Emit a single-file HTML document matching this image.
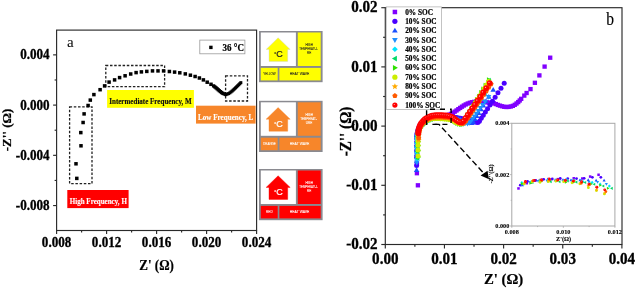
<!DOCTYPE html>
<html><head><meta charset="utf-8"><style>
html,body{margin:0;padding:0;background:#fff;width:637px;height:289px;overflow:hidden}
svg{display:block;filter:blur(0.3px)}
text{font-family:"Liberation Serif", "Times New Roman", serif}
</style></head><body>
<svg width="637" height="289" viewBox="0 0 637 289">
<rect width="637" height="289" fill="#fff"/>
<rect x="56.6" y="30.1" width="200.00000000000003" height="200.4" fill="none" stroke="#2a2a2a" stroke-width="1.15"/>
<line x1="56.6" y1="230.5" x2="56.6" y2="234.0" stroke="#2a2a2a" stroke-width="1.15"/>
<text transform="translate(56.6,247.1) scale(1,1.08)" font-size="13.1" stroke="#000" stroke-width="0.3" font-weight="bold" text-anchor="middle">0.008</text>
<line x1="106.6" y1="230.5" x2="106.6" y2="234.0" stroke="#2a2a2a" stroke-width="1.15"/>
<text transform="translate(106.6,247.1) scale(1,1.08)" font-size="13.1" stroke="#000" stroke-width="0.3" font-weight="bold" text-anchor="middle">0.012</text>
<line x1="156.6" y1="230.5" x2="156.6" y2="234.0" stroke="#2a2a2a" stroke-width="1.15"/>
<text transform="translate(156.6,247.1) scale(1,1.08)" font-size="13.1" stroke="#000" stroke-width="0.3" font-weight="bold" text-anchor="middle">0.016</text>
<line x1="206.6" y1="230.5" x2="206.6" y2="234.0" stroke="#2a2a2a" stroke-width="1.15"/>
<text transform="translate(206.6,247.1) scale(1,1.08)" font-size="13.1" stroke="#000" stroke-width="0.3" font-weight="bold" text-anchor="middle">0.020</text>
<line x1="256.6" y1="230.5" x2="256.6" y2="234.0" stroke="#2a2a2a" stroke-width="1.15"/>
<text transform="translate(256.6,247.1) scale(1,1.08)" font-size="13.1" stroke="#000" stroke-width="0.3" font-weight="bold" text-anchor="middle">0.024</text>
<line x1="81.6" y1="230.5" x2="81.6" y2="232.5" stroke="#2a2a2a" stroke-width="1.15"/>
<line x1="131.6" y1="230.5" x2="131.6" y2="232.5" stroke="#2a2a2a" stroke-width="1.15"/>
<line x1="181.6" y1="230.5" x2="181.6" y2="232.5" stroke="#2a2a2a" stroke-width="1.15"/>
<line x1="231.6" y1="230.5" x2="231.6" y2="232.5" stroke="#2a2a2a" stroke-width="1.15"/>
<line x1="53.1" y1="54.87" x2="56.6" y2="54.87" stroke="#2a2a2a" stroke-width="1.15"/>
<text transform="translate(49.6,59.47) scale(1,1.08)" font-size="13.1" stroke="#000" stroke-width="0.3" font-weight="bold" text-anchor="end">0.004</text>
<line x1="53.1" y1="105.1" x2="56.6" y2="105.1" stroke="#2a2a2a" stroke-width="1.15"/>
<text transform="translate(49.6,109.7) scale(1,1.08)" font-size="13.1" stroke="#000" stroke-width="0.3" font-weight="bold" text-anchor="end">0.000</text>
<line x1="53.1" y1="155.33" x2="56.6" y2="155.33" stroke="#2a2a2a" stroke-width="1.15"/>
<text transform="translate(49.6,159.93) scale(1,1.08)" font-size="13.1" stroke="#000" stroke-width="0.3" font-weight="bold" text-anchor="end">-0.004</text>
<line x1="53.1" y1="205.56" x2="56.6" y2="205.56" stroke="#2a2a2a" stroke-width="1.15"/>
<text transform="translate(49.6,210.16) scale(1,1.08)" font-size="13.1" stroke="#000" stroke-width="0.3" font-weight="bold" text-anchor="end">-0.008</text>
<line x1="54.6" y1="79.98" x2="56.6" y2="79.98" stroke="#2a2a2a" stroke-width="1.15"/>
<line x1="54.6" y1="130.22" x2="56.6" y2="130.22" stroke="#2a2a2a" stroke-width="1.15"/>
<line x1="54.6" y1="180.45" x2="56.6" y2="180.45" stroke="#2a2a2a" stroke-width="1.15"/>
<text transform="translate(156.6,269.8) scale(1,1.04)" font-size="13" stroke="#000" stroke-width="0.2" font-weight="bold" text-anchor="middle">Z' (Ω)</text>
<text transform="translate(11.2,130) rotate(-90)" font-size="13" font-weight="bold" text-anchor="middle" stroke="#000" stroke-width="0.2">-Z'' (Ω)</text>
<text x="67" y="46.9" font-size="15">a</text>
<rect x="199.8" y="40.1" width="45.1" height="13.7" fill="#fff" stroke="#999" stroke-width="0.8"/>
<rect x="209.2" y="45.7" width="3.4" height="3.4" fill="#000"/>
<text transform="translate(222.6,50.6) scale(1,1.08)" font-size="9" stroke="#000" stroke-width="0.22" font-weight="bold">36 °C</text>
<rect x="69.6" y="106.8" width="22.4" height="76.9" stroke="#222" stroke-width="1.3" stroke-dasharray="2.5 1.7" fill="none"/>
<rect x="105.8" y="65.5" width="58.8" height="21.2" stroke="#222" stroke-width="1.3" stroke-dasharray="2.5 1.7" fill="none"/>
<rect x="225.6" y="75.8" width="21.9" height="25.2" stroke="#222" stroke-width="1.3" stroke-dasharray="2.5 1.7" fill="none"/>
<rect x="75.05" y="176.65" width="3.5" height="3.5" fill="#000"/>
<rect x="74.25" y="162.05" width="3.5" height="3.5" fill="#000"/>
<rect x="79.25" y="144.05" width="3.5" height="3.5" fill="#000"/>
<rect x="79.05" y="130.85" width="3.5" height="3.5" fill="#000"/>
<rect x="81.35" y="120.75" width="3.5" height="3.5" fill="#000"/>
<rect x="82.35" y="112.15" width="3.5" height="3.5" fill="#000"/>
<rect x="86.35" y="103.75" width="3.5" height="3.5" fill="#000"/>
<rect x="88.55" y="98.35" width="3.5" height="3.5" fill="#000"/>
<rect x="92.15" y="92.85" width="3.5" height="3.5" fill="#000"/>
<rect x="98.35" y="87.95" width="3.5" height="3.5" fill="#000"/>
<rect x="102.85" y="84.15" width="3.5" height="3.5" fill="#000"/>
<rect x="107.35" y="80.35" width="3.5" height="3.5" fill="#000"/>
<rect x="112.85" y="78.15" width="3.5" height="3.5" fill="#000"/>
<rect x="117.85" y="75.85" width="3.5" height="3.5" fill="#000"/>
<rect x="123.35" y="74.05" width="3.5" height="3.5" fill="#000"/>
<rect x="128.95" y="72.25" width="3.5" height="3.5" fill="#000"/>
<rect x="134.35" y="70.85" width="3.5" height="3.5" fill="#000"/>
<rect x="139.65" y="70.15" width="3.5" height="3.5" fill="#000"/>
<rect x="145.05" y="69.65" width="3.5" height="3.5" fill="#000"/>
<rect x="150.75" y="69.15" width="3.5" height="3.5" fill="#000"/>
<rect x="156.25" y="69.15" width="3.5" height="3.5" fill="#000"/>
<rect x="161.85" y="69.15" width="3.5" height="3.5" fill="#000"/>
<rect x="167.65" y="69.75" width="3.5" height="3.5" fill="#000"/>
<rect x="172.85" y="70.35" width="3.5" height="3.5" fill="#000"/>
<rect x="178.05" y="71.05" width="3.5" height="3.5" fill="#000"/>
<rect x="183.55" y="72.15" width="3.5" height="3.5" fill="#000"/>
<rect x="188.65" y="73.45" width="3.5" height="3.5" fill="#000"/>
<rect x="193.35" y="74.75" width="3.5" height="3.5" fill="#000"/>
<rect x="197.65" y="76.25" width="3.5" height="3.5" fill="#000"/>
<rect x="201.65" y="78.15" width="3.5" height="3.5" fill="#000"/>
<rect x="205.45" y="80.45" width="3.5" height="3.5" fill="#000"/>
<rect x="209.25" y="82.55" width="3.5" height="3.5" fill="#000"/>
<rect x="211.95" y="84.25" width="3.3" height="3.3" fill="#000"/>
<rect x="213.13" y="85.18" width="3.3" height="3.3" fill="#000"/>
<rect x="214.3" y="86.11" width="3.3" height="3.3" fill="#000"/>
<rect x="215.44" y="87.08" width="3.3" height="3.3" fill="#000"/>
<rect x="216.56" y="88.09" width="3.3" height="3.3" fill="#000"/>
<rect x="217.67" y="89.09" width="3.3" height="3.3" fill="#000"/>
<rect x="218.85" y="90.02" width="3.3" height="3.3" fill="#000"/>
<rect x="220.03" y="90.94" width="3.3" height="3.3" fill="#000"/>
<rect x="221.27" y="91.77" width="3.3" height="3.3" fill="#000"/>
<rect x="222.67" y="92.3" width="3.3" height="3.3" fill="#000"/>
<rect x="224.08" y="92.82" width="3.3" height="3.3" fill="#000"/>
<rect x="225.66" y="92.58" width="3.0" height="3.0" fill="#000"/>
<rect x="227.09" y="92.13" width="3.0" height="3.0" fill="#000"/>
<rect x="228.34" y="91.34" width="3.0" height="3.0" fill="#000"/>
<rect x="229.52" y="90.41" width="3.0" height="3.0" fill="#000"/>
<rect x="230.7" y="89.48" width="3.0" height="3.0" fill="#000"/>
<rect x="231.8" y="88.46" width="3.0" height="3.0" fill="#000"/>
<rect x="232.89" y="87.44" width="3.0" height="3.0" fill="#000"/>
<rect x="233.99" y="86.41" width="3.0" height="3.0" fill="#000"/>
<rect x="235.07" y="85.37" width="3.0" height="3.0" fill="#000"/>
<rect x="236.14" y="84.32" width="3.0" height="3.0" fill="#000"/>
<rect x="237.22" y="83.28" width="3.0" height="3.0" fill="#000"/>
<rect x="238.28" y="82.22" width="3.0" height="3.0" fill="#000"/>
<rect x="239.34" y="81.16" width="3.0" height="3.0" fill="#000"/>
<rect x="107.1" y="90" width="86.8" height="17.8" fill="#ffff00"/>
<text transform="translate(150.5,103.8) scale(1,1.15)" font-size="7.05" stroke="#111" stroke-width="0.15" font-weight="bold" text-anchor="middle" fill="#111">Intermediate Frequency, M</text>
<rect x="196" y="105.7" width="59.6" height="17.9" fill="#f7862a"/>
<text transform="translate(225.7,119.5) scale(1,1.15)" font-size="7.1" stroke="#fff" stroke-width="0.12" font-weight="bold" text-anchor="middle" fill="#fff">Low Frequency, L</text>
<rect x="67.3" y="190" width="61.3" height="18.1" fill="#ff0000"/>
<text transform="translate(98.3,204) scale(1,1.15)" font-size="7.05" stroke="#fff" stroke-width="0.12" font-weight="bold" text-anchor="middle" fill="#fff">High Frequency, H</text>
<rect x="259" y="31" width="63.6" height="51.2" fill="#8a8a90"/>
<rect x="260.8" y="32.5" width="35.1" height="33.5" fill="#fff"/>
<rect x="297.8" y="32.5" width="22.9" height="33.5" fill="#ffff00"/>
<rect x="260.8" y="67.9" width="16.9" height="12.5" fill="#ffff00"/>
<rect x="279.4" y="67.9" width="41.3" height="12.5" fill="#ffff00"/>
<path d="M278.1 37.8 L290.2 49.4 L287.7 49.4 L287.7 61.4 L269 61.4 L269 49.4 L266.1 49.4 Z" fill="#ffff00" stroke="#c8d0d8" stroke-width="0.4"/>
<text x="274.0" y="55.7" font-size="5.8" fill="#222" style="font-family:'Liberation Sans', Arial, sans-serif" stroke="#222" stroke-width="0.15">°</text>
<text x="276.3" y="57.1" font-size="9.0" fill="#222" style="font-family:'Liberation Sans', Arial, sans-serif" stroke="#222" stroke-width="0.2">C</text>
<text x="309.1" y="46" font-size="3.1" fill="#222" text-anchor="middle" style="font-family:'Liberation Sans', Arial, sans-serif" stroke="#222" stroke-width="0.06" textLength="7.4" lengthAdjust="spacingAndGlyphs">HIGH</text>
<text x="308.4" y="50.1" font-size="3.1" fill="#222" text-anchor="middle" style="font-family:'Liberation Sans', Arial, sans-serif" stroke="#222" stroke-width="0.06" textLength="18.2" lengthAdjust="spacingAndGlyphs">TEMPERATU-</text>
<text x="309.1" y="54.2" font-size="3.1" fill="#222" text-anchor="middle" style="font-family:'Liberation Sans', Arial, sans-serif" stroke="#222" stroke-width="0.06">RE</text>
<text x="269.4" y="75.4" font-size="3.2" fill="#222" text-anchor="middle" style="font-family:'Liberation Sans', Arial, sans-serif" stroke="#222" stroke-width="0.06" textLength="12.4" lengthAdjust="spacingAndGlyphs">YELLOW</text>
<text x="299.6" y="75.4" font-size="3.3" fill="#222" text-anchor="middle" style="font-family:'Liberation Sans', Arial, sans-serif" stroke="#222" stroke-width="0.06" textLength="19.6" lengthAdjust="spacingAndGlyphs">HEAT WAVE</text>
<rect x="259" y="100.8" width="63.6" height="51.2" fill="#8a8a90"/>
<rect x="260.8" y="102.3" width="35.1" height="33.5" fill="#fff"/>
<rect x="297.8" y="102.3" width="22.9" height="33.5" fill="#f7862a"/>
<rect x="260.8" y="137.7" width="16.9" height="12.5" fill="#f7862a"/>
<rect x="279.4" y="137.7" width="41.3" height="12.5" fill="#f7862a"/>
<path d="M278.1 107.6 L290.2 119.2 L287.7 119.2 L287.7 131.2 L269 131.2 L269 119.2 L266.1 119.2 Z" fill="#f7862a" stroke="#f7862a" stroke-width="0.4"/>
<text x="274.0" y="125.5" font-size="5.8" fill="#fff" style="font-family:'Liberation Sans', Arial, sans-serif" stroke="#fff" stroke-width="0.15">°</text>
<text x="276.3" y="126.9" font-size="9.0" fill="#fff" style="font-family:'Liberation Sans', Arial, sans-serif" stroke="#fff" stroke-width="0.2">C</text>
<text x="309.1" y="115.8" font-size="3.1" fill="#fff" text-anchor="middle" style="font-family:'Liberation Sans', Arial, sans-serif" stroke="#fff" stroke-width="0.06" textLength="7.4" lengthAdjust="spacingAndGlyphs">HIGH</text>
<text x="308.4" y="119.9" font-size="3.1" fill="#fff" text-anchor="middle" style="font-family:'Liberation Sans', Arial, sans-serif" stroke="#fff" stroke-width="0.06" textLength="16.5" lengthAdjust="spacingAndGlyphs">TEMPERAT-</text>
<text x="309.1" y="124" font-size="3.1" fill="#fff" text-anchor="middle" style="font-family:'Liberation Sans', Arial, sans-serif" stroke="#fff" stroke-width="0.06">URE</text>
<text x="269.4" y="145.2" font-size="3.2" fill="#fff" text-anchor="middle" style="font-family:'Liberation Sans', Arial, sans-serif" stroke="#fff" stroke-width="0.06" textLength="12.8" lengthAdjust="spacingAndGlyphs">ORANGE</text>
<text x="299.6" y="145.2" font-size="3.3" fill="#fff" text-anchor="middle" style="font-family:'Liberation Sans', Arial, sans-serif" stroke="#fff" stroke-width="0.06" textLength="19.6" lengthAdjust="spacingAndGlyphs">HEAT WAVE</text>
<rect x="259" y="169" width="63.6" height="51.2" fill="#8a8a90"/>
<rect x="260.8" y="170.5" width="35.1" height="33.5" fill="#fff"/>
<rect x="297.8" y="170.5" width="22.9" height="33.5" fill="#ff0000"/>
<rect x="260.8" y="205.9" width="16.9" height="12.5" fill="#ff0000"/>
<rect x="279.4" y="205.9" width="41.3" height="12.5" fill="#ff0000"/>
<path d="M278.1 175.8 L290.2 187.4 L287.7 187.4 L287.7 199.4 L269 199.4 L269 187.4 L266.1 187.4 Z" fill="#ff0000" stroke="#ff0000" stroke-width="0.4"/>
<text x="274.0" y="193.7" font-size="5.8" fill="#fff" style="font-family:'Liberation Sans', Arial, sans-serif" stroke="#fff" stroke-width="0.15">°</text>
<text x="276.3" y="195.1" font-size="9.0" fill="#fff" style="font-family:'Liberation Sans', Arial, sans-serif" stroke="#fff" stroke-width="0.2">C</text>
<text x="309.1" y="184" font-size="3.1" fill="#fff" text-anchor="middle" style="font-family:'Liberation Sans', Arial, sans-serif" stroke="#fff" stroke-width="0.06" textLength="7.4" lengthAdjust="spacingAndGlyphs">HIGH</text>
<text x="308.4" y="188.1" font-size="3.1" fill="#fff" text-anchor="middle" style="font-family:'Liberation Sans', Arial, sans-serif" stroke="#fff" stroke-width="0.06" textLength="18.2" lengthAdjust="spacingAndGlyphs">TEMPERATU-</text>
<text x="309.1" y="192.2" font-size="3.1" fill="#fff" text-anchor="middle" style="font-family:'Liberation Sans', Arial, sans-serif" stroke="#fff" stroke-width="0.06">RE</text>
<text x="269.4" y="213.4" font-size="3.2" fill="#fff" text-anchor="middle" style="font-family:'Liberation Sans', Arial, sans-serif" stroke="#fff" stroke-width="0.06" textLength="6.6" lengthAdjust="spacingAndGlyphs">RED</text>
<text x="299.6" y="213.4" font-size="3.3" fill="#fff" text-anchor="middle" style="font-family:'Liberation Sans', Arial, sans-serif" stroke="#fff" stroke-width="0.06" textLength="19.6" lengthAdjust="spacingAndGlyphs">HEAT WAVE</text>
<rect x="385.3" y="7.7" width="236.7" height="236.8" fill="none" stroke="#2a2a2a" stroke-width="1.15"/>
<line x1="385.3" y1="244.5" x2="385.3" y2="248.5" stroke="#2a2a2a" stroke-width="1.15"/>
<text transform="translate(385.3,264) scale(1,1.04)" font-size="15.1" stroke="#000" stroke-width="0.3" font-weight="bold" text-anchor="middle">0.00</text>
<line x1="444.45" y1="244.5" x2="444.45" y2="248.5" stroke="#2a2a2a" stroke-width="1.15"/>
<text transform="translate(444.45,264) scale(1,1.04)" font-size="15.1" stroke="#000" stroke-width="0.3" font-weight="bold" text-anchor="middle">0.01</text>
<line x1="503.6" y1="244.5" x2="503.6" y2="248.5" stroke="#2a2a2a" stroke-width="1.15"/>
<text transform="translate(503.6,264) scale(1,1.04)" font-size="15.1" stroke="#000" stroke-width="0.3" font-weight="bold" text-anchor="middle">0.02</text>
<line x1="562.75" y1="244.5" x2="562.75" y2="248.5" stroke="#2a2a2a" stroke-width="1.15"/>
<text transform="translate(562.75,264) scale(1,1.04)" font-size="15.1" stroke="#000" stroke-width="0.3" font-weight="bold" text-anchor="middle">0.03</text>
<line x1="621.9" y1="244.5" x2="621.9" y2="248.5" stroke="#2a2a2a" stroke-width="1.15"/>
<text transform="translate(621.9,264) scale(1,1.04)" font-size="15.1" stroke="#000" stroke-width="0.3" font-weight="bold" text-anchor="middle">0.04</text>
<line x1="414.88" y1="244.5" x2="414.88" y2="246.7" stroke="#2a2a2a" stroke-width="1.15"/>
<line x1="474.02" y1="244.5" x2="474.02" y2="246.7" stroke="#2a2a2a" stroke-width="1.15"/>
<line x1="533.17" y1="244.5" x2="533.17" y2="246.7" stroke="#2a2a2a" stroke-width="1.15"/>
<line x1="592.33" y1="244.5" x2="592.33" y2="246.7" stroke="#2a2a2a" stroke-width="1.15"/>
<line x1="381.3" y1="7.7" x2="385.3" y2="7.7" stroke="#2a2a2a" stroke-width="1.15"/>
<text transform="translate(377.6,12.3) scale(1,1.04)" font-size="15.1" stroke="#000" stroke-width="0.3" font-weight="bold" text-anchor="end">0.02</text>
<line x1="381.3" y1="66.9" x2="385.3" y2="66.9" stroke="#2a2a2a" stroke-width="1.15"/>
<text transform="translate(377.6,71.5) scale(1,1.04)" font-size="15.1" stroke="#000" stroke-width="0.3" font-weight="bold" text-anchor="end">0.01</text>
<line x1="381.3" y1="126.1" x2="385.3" y2="126.1" stroke="#2a2a2a" stroke-width="1.15"/>
<text transform="translate(377.6,130.7) scale(1,1.04)" font-size="15.1" stroke="#000" stroke-width="0.3" font-weight="bold" text-anchor="end">0.00</text>
<line x1="381.3" y1="185.3" x2="385.3" y2="185.3" stroke="#2a2a2a" stroke-width="1.15"/>
<text transform="translate(377.6,189.9) scale(1,1.04)" font-size="15.1" stroke="#000" stroke-width="0.3" font-weight="bold" text-anchor="end">-0.01</text>
<line x1="381.3" y1="244.5" x2="385.3" y2="244.5" stroke="#2a2a2a" stroke-width="1.15"/>
<text transform="translate(377.6,249.1) scale(1,1.04)" font-size="15.1" stroke="#000" stroke-width="0.3" font-weight="bold" text-anchor="end">-0.02</text>
<line x1="383.1" y1="37.3" x2="385.3" y2="37.3" stroke="#2a2a2a" stroke-width="1.15"/>
<line x1="383.1" y1="96.5" x2="385.3" y2="96.5" stroke="#2a2a2a" stroke-width="1.15"/>
<line x1="383.1" y1="155.7" x2="385.3" y2="155.7" stroke="#2a2a2a" stroke-width="1.15"/>
<line x1="383.1" y1="214.9" x2="385.3" y2="214.9" stroke="#2a2a2a" stroke-width="1.15"/>
<text transform="translate(503.6,283.5) scale(1,1.04)" font-size="14.8" stroke="#000" stroke-width="0.22" font-weight="bold" text-anchor="middle">Z' (Ω)</text>
<text transform="translate(351.4,131.5) rotate(-90) scale(1,1.1)" font-size="15.2" font-weight="bold" text-anchor="middle" stroke="#000" stroke-width="0.25">-Z'' (Ω)</text>
<text transform="translate(606.3,24.6) scale(1,1.17)" font-size="15.5" stroke="#000" stroke-width="0.15">b</text>
<g>
<rect x="415.74" y="183.14" width="4.32" height="4.32" fill="#8000ff"/>
<rect x="414.74" y="171.04" width="4.32" height="4.32" fill="#8000ff"/>
<rect x="414.74" y="161.04" width="4.32" height="4.32" fill="#8000ff"/>
<rect x="414.84" y="153.04" width="4.32" height="4.32" fill="#8000ff"/>
<rect x="415.04" y="146.44" width="4.32" height="4.32" fill="#8000ff"/>
<rect x="415.24" y="141.04" width="4.32" height="4.32" fill="#8000ff"/>
<rect x="415.44" y="136.64" width="4.32" height="4.32" fill="#8000ff"/>
<rect x="415.44" y="132.14" width="4.32" height="4.32" fill="#8000ff"/>
<rect x="415.63" y="129.95" width="4.32" height="4.32" fill="#8000ff"/>
<rect x="415.96" y="127.77" width="4.32" height="4.32" fill="#8000ff"/>
<rect x="416.63" y="125.68" width="4.32" height="4.32" fill="#8000ff"/>
<rect x="417.57" y="123.69" width="4.32" height="4.32" fill="#8000ff"/>
<rect x="418.74" y="121.83" width="4.32" height="4.32" fill="#8000ff"/>
<rect x="420.11" y="120.11" width="4.32" height="4.32" fill="#8000ff"/>
<rect x="421.66" y="118.55" width="4.32" height="4.32" fill="#8000ff"/>
<rect x="423.36" y="117.15" width="4.32" height="4.32" fill="#8000ff"/>
<rect x="425.21" y="115.98" width="4.32" height="4.32" fill="#8000ff"/>
<rect x="427.21" y="115.06" width="4.32" height="4.32" fill="#8000ff"/>
<rect x="429.31" y="114.4" width="4.32" height="4.32" fill="#8000ff"/>
<rect x="431.47" y="114.02" width="4.32" height="4.32" fill="#8000ff"/>
<rect x="433.67" y="113.85" width="4.32" height="4.32" fill="#8000ff"/>
<rect x="435.86" y="113.79" width="4.32" height="4.32" fill="#8000ff"/>
<rect x="438.06" y="113.8" width="4.32" height="4.32" fill="#8000ff"/>
<rect x="440.26" y="113.76" width="4.32" height="4.32" fill="#8000ff"/>
<rect x="442.45" y="113.56" width="4.32" height="4.32" fill="#8000ff"/>
<rect x="444.62" y="113.15" width="4.32" height="4.32" fill="#8000ff"/>
<rect x="446.73" y="112.55" width="4.32" height="4.32" fill="#8000ff"/>
<rect x="448.77" y="111.74" width="4.32" height="4.32" fill="#8000ff"/>
<rect x="450.7" y="110.68" width="4.32" height="4.32" fill="#8000ff"/>
<rect x="452.57" y="109.51" width="4.32" height="4.32" fill="#8000ff"/>
<rect x="454.39" y="108.29" width="4.32" height="4.32" fill="#8000ff"/>
<rect x="456.17" y="106.99" width="4.32" height="4.32" fill="#8000ff"/>
<rect x="457.98" y="105.75" width="4.32" height="4.32" fill="#8000ff"/>
<rect x="459.82" y="104.53" width="4.32" height="4.32" fill="#8000ff"/>
<rect x="461.67" y="103.34" width="4.32" height="4.32" fill="#8000ff"/>
<rect x="463.59" y="102.27" width="4.32" height="4.32" fill="#8000ff"/>
<rect x="465.59" y="101.36" width="4.32" height="4.32" fill="#8000ff"/>
<rect x="467.66" y="100.62" width="4.32" height="4.32" fill="#8000ff"/>
<rect x="469.79" y="100.05" width="4.32" height="4.32" fill="#8000ff"/>
<rect x="471.96" y="99.68" width="4.32" height="4.32" fill="#8000ff"/>
<rect x="474.15" y="99.5" width="4.32" height="4.32" fill="#8000ff"/>
<rect x="476.35" y="99.43" width="4.32" height="4.32" fill="#8000ff"/>
<rect x="478.55" y="99.48" width="4.32" height="4.32" fill="#8000ff"/>
<rect x="480.74" y="99.64" width="4.32" height="4.32" fill="#8000ff"/>
<rect x="482.93" y="99.87" width="4.32" height="4.32" fill="#8000ff"/>
<rect x="485.1" y="100.19" width="4.32" height="4.32" fill="#8000ff"/>
<rect x="487.27" y="100.55" width="4.32" height="4.32" fill="#8000ff"/>
<rect x="489.46" y="100.82" width="4.32" height="4.32" fill="#8000ff"/>
<rect x="491.62" y="101.18" width="4.32" height="4.32" fill="#8000ff"/>
<rect x="493.69" y="101.92" width="4.32" height="4.32" fill="#8000ff"/>
<rect x="495.72" y="102.77" width="4.32" height="4.32" fill="#8000ff"/>
<rect x="497.8" y="103.48" width="4.32" height="4.32" fill="#8000ff"/>
<rect x="499.91" y="104.12" width="4.32" height="4.32" fill="#8000ff"/>
<rect x="502.05" y="104.63" width="4.32" height="4.32" fill="#8000ff"/>
<rect x="504.24" y="104.85" width="4.32" height="4.32" fill="#8000ff"/>
<rect x="506.43" y="104.74" width="4.32" height="4.32" fill="#8000ff"/>
<rect x="508.6" y="104.36" width="4.32" height="4.32" fill="#8000ff"/>
<rect x="510.69" y="103.7" width="4.32" height="4.32" fill="#8000ff"/>
<rect x="512.62" y="102.65" width="4.32" height="4.32" fill="#8000ff"/>
<rect x="514.38" y="101.33" width="4.32" height="4.32" fill="#8000ff"/>
<rect x="516.05" y="99.9" width="4.32" height="4.32" fill="#8000ff"/>
<rect x="517.58" y="98.32" width="4.32" height="4.32" fill="#8000ff"/>
<rect x="519.04" y="96.67" width="4.32" height="4.32" fill="#8000ff"/>
<rect x="522.14" y="93.44" width="4.32" height="4.32" fill="#8000ff"/>
<rect x="524.44" y="90.84" width="4.32" height="4.32" fill="#8000ff"/>
<rect x="528.34" y="86.94" width="4.32" height="4.32" fill="#8000ff"/>
<rect x="532.74" y="80.64" width="4.32" height="4.32" fill="#8000ff"/>
<rect x="537.24" y="73.24" width="4.32" height="4.32" fill="#8000ff"/>
<rect x="542.44" y="64.44" width="4.32" height="4.32" fill="#8000ff"/>
<rect x="548.04" y="55.54" width="4.32" height="4.32" fill="#8000ff"/>
<circle cx="416.6" cy="165.5" r="2.5" fill="#4a00ff"/>
<circle cx="416.6" cy="157.57" r="2.5" fill="#4a00ff"/>
<circle cx="416.6" cy="151.23" r="2.5" fill="#4a00ff"/>
<circle cx="416.6" cy="146.15" r="2.5" fill="#4a00ff"/>
<circle cx="416.6" cy="142.09" r="2.5" fill="#4a00ff"/>
<circle cx="416.6" cy="137.6" r="2.5" fill="#4a00ff"/>
<circle cx="416.79" cy="135.61" r="2.5" fill="#4a00ff"/>
<circle cx="417.02" cy="133.62" r="2.5" fill="#4a00ff"/>
<circle cx="417.45" cy="131.67" r="2.5" fill="#4a00ff"/>
<circle cx="418.11" cy="129.78" r="2.5" fill="#4a00ff"/>
<circle cx="418.94" cy="127.97" r="2.5" fill="#4a00ff"/>
<circle cx="419.94" cy="126.23" r="2.5" fill="#4a00ff"/>
<circle cx="421.1" cy="124.61" r="2.5" fill="#4a00ff"/>
<circle cx="422.41" cy="123.1" r="2.5" fill="#4a00ff"/>
<circle cx="423.86" cy="121.72" r="2.5" fill="#4a00ff"/>
<circle cx="425.44" cy="120.48" r="2.5" fill="#4a00ff"/>
<circle cx="427.12" cy="119.4" r="2.5" fill="#4a00ff"/>
<circle cx="428.9" cy="118.49" r="2.5" fill="#4a00ff"/>
<circle cx="430.75" cy="117.75" r="2.5" fill="#4a00ff"/>
<circle cx="432.67" cy="117.19" r="2.5" fill="#4a00ff"/>
<circle cx="434.64" cy="116.84" r="2.5" fill="#4a00ff"/>
<circle cx="436.63" cy="116.65" r="2.5" fill="#4a00ff"/>
<circle cx="438.63" cy="116.56" r="2.5" fill="#4a00ff"/>
<circle cx="440.63" cy="116.54" r="2.5" fill="#4a00ff"/>
<circle cx="442.63" cy="116.6" r="2.5" fill="#4a00ff"/>
<circle cx="444.62" cy="116.7" r="2.5" fill="#4a00ff"/>
<circle cx="446.62" cy="116.8" r="2.5" fill="#4a00ff"/>
<circle cx="448.62" cy="116.9" r="2.5" fill="#4a00ff"/>
<circle cx="450.62" cy="117.01" r="2.5" fill="#4a00ff"/>
<circle cx="452.61" cy="117.15" r="2.5" fill="#4a00ff"/>
<circle cx="454.6" cy="117.34" r="2.5" fill="#4a00ff"/>
<circle cx="456.59" cy="117.58" r="2.5" fill="#4a00ff"/>
<circle cx="458.56" cy="117.9" r="2.5" fill="#4a00ff"/>
<circle cx="460.52" cy="118.29" r="2.5" fill="#4a00ff"/>
<circle cx="462.47" cy="118.73" r="2.5" fill="#4a00ff"/>
<circle cx="464.42" cy="119.2" r="2.5" fill="#4a00ff"/>
<circle cx="466.36" cy="119.69" r="2.5" fill="#4a00ff"/>
<circle cx="468.29" cy="120.2" r="2.5" fill="#4a00ff"/>
<circle cx="470.22" cy="120.71" r="2.5" fill="#4a00ff"/>
<circle cx="472.16" cy="121.23" r="2.5" fill="#4a00ff"/>
<circle cx="474.09" cy="121.72" r="2.5" fill="#4a00ff"/>
<circle cx="476.01" cy="122.31" r="2.5" fill="#4a00ff"/>
<circle cx="477.89" cy="122.44" r="2.5" fill="#4a00ff"/>
<circle cx="479.41" cy="121.16" r="2.5" fill="#4a00ff"/>
<circle cx="481.27" cy="118.31" r="2.5" fill="#4a00ff"/>
<circle cx="483.25" cy="115.29" r="2.5" fill="#4a00ff"/>
<circle cx="485.35" cy="112.09" r="2.5" fill="#4a00ff"/>
<circle cx="487.58" cy="108.68" r="2.5" fill="#4a00ff"/>
<circle cx="489.95" cy="105.06" r="2.5" fill="#4a00ff"/>
<circle cx="492.46" cy="101.22" r="2.5" fill="#4a00ff"/>
<circle cx="495.13" cy="97.15" r="2.5" fill="#4a00ff"/>
<circle cx="497.97" cy="92.82" r="2.5" fill="#4a00ff"/>
<circle cx="500.98" cy="88.22" r="2.5" fill="#4a00ff"/>
<circle cx="504.2" cy="83.3" r="2.5" fill="#4a00ff"/>
<polygon points="416.6,167.32 419.35,172.07 413.85,172.07" fill="#1a50ff"/>
<polygon points="416.6,158.45 419.35,163.2 413.85,163.2" fill="#1a50ff"/>
<polygon points="416.6,151.36 419.35,156.11 413.85,156.11" fill="#1a50ff"/>
<polygon points="416.6,145.68 419.35,150.43 413.85,150.43" fill="#1a50ff"/>
<polygon points="416.6,141.14 419.35,145.89 413.85,145.89" fill="#1a50ff"/>
<polygon points="416.6,135.12 419.35,139.88 413.85,139.88" fill="#1a50ff"/>
<polygon points="416.79,133.13 419.54,137.88 414.04,137.88" fill="#1a50ff"/>
<polygon points="417.02,131.15 419.77,135.9 414.27,135.9" fill="#1a50ff"/>
<polygon points="417.45,129.2 420.2,133.95 414.7,133.95" fill="#1a50ff"/>
<polygon points="418.11,127.31 420.86,132.06 415.36,132.06" fill="#1a50ff"/>
<polygon points="418.94,125.49 421.69,130.24 416.19,130.24" fill="#1a50ff"/>
<polygon points="419.94,123.76 422.69,128.51 417.19,128.51" fill="#1a50ff"/>
<polygon points="421.1,122.13 423.85,126.88 418.35,126.88" fill="#1a50ff"/>
<polygon points="422.41,120.62 425.16,125.37 419.66,125.37" fill="#1a50ff"/>
<polygon points="423.86,119.24 426.61,123.99 421.11,123.99" fill="#1a50ff"/>
<polygon points="425.44,118.01 428.19,122.76 422.69,122.76" fill="#1a50ff"/>
<polygon points="427.12,116.93 429.87,121.68 424.37,121.68" fill="#1a50ff"/>
<polygon points="428.9,116.02 431.65,120.77 426.15,120.77" fill="#1a50ff"/>
<polygon points="430.75,115.27 433.5,120.02 428,120.02" fill="#1a50ff"/>
<polygon points="432.67,114.71 435.42,119.46 429.92,119.46" fill="#1a50ff"/>
<polygon points="434.64,114.36 437.39,119.11 431.89,119.11" fill="#1a50ff"/>
<polygon points="436.63,114.18 439.38,118.93 433.88,118.93" fill="#1a50ff"/>
<polygon points="438.63,114.08 441.38,118.83 435.88,118.83" fill="#1a50ff"/>
<polygon points="440.63,114.06 443.38,118.81 437.88,118.81" fill="#1a50ff"/>
<polygon points="442.63,114.12 445.38,118.87 439.88,118.87" fill="#1a50ff"/>
<polygon points="444.62,114.23 447.37,118.98 441.87,118.98" fill="#1a50ff"/>
<polygon points="446.62,114.33 449.37,119.08 443.87,119.08" fill="#1a50ff"/>
<polygon points="448.62,114.44 451.37,119.19 445.87,119.19" fill="#1a50ff"/>
<polygon points="450.61,114.57 453.36,119.32 447.86,119.32" fill="#1a50ff"/>
<polygon points="452.6,114.77 455.35,119.52 449.85,119.52" fill="#1a50ff"/>
<polygon points="454.58,115.05 457.33,119.8 451.83,119.8" fill="#1a50ff"/>
<polygon points="456.54,115.45 459.29,120.2 453.79,120.2" fill="#1a50ff"/>
<polygon points="458.47,115.99 461.22,120.74 455.72,120.74" fill="#1a50ff"/>
<polygon points="460.37,116.62 463.12,121.37 457.62,121.37" fill="#1a50ff"/>
<polygon points="462.25,117.3 465,122.05 459.5,122.05" fill="#1a50ff"/>
<polygon points="464.12,118 466.87,122.75 461.37,122.75" fill="#1a50ff"/>
<polygon points="465.99,118.71 468.74,123.46 463.24,123.46" fill="#1a50ff"/>
<polygon points="467.87,119.38 470.62,124.13 465.12,124.13" fill="#1a50ff"/>
<polygon points="469.75,120.07 472.5,124.82 467,124.82" fill="#1a50ff"/>
<polygon points="471.67,120.27 474.42,125.02 468.92,125.02" fill="#1a50ff"/>
<polygon points="473.25,119.05 476,123.8 470.5,123.8" fill="#1a50ff"/>
<polygon points="474.93,116.33 477.68,121.08 472.18,121.08" fill="#1a50ff"/>
<polygon points="476.77,113.37 479.52,118.12 474.02,118.12" fill="#1a50ff"/>
<polygon points="478.78,110.14 481.53,114.89 476.03,114.89" fill="#1a50ff"/>
<polygon points="480.97,106.62 483.72,111.37 478.22,111.37" fill="#1a50ff"/>
<polygon points="483.35,102.79 486.1,107.54 480.6,107.54" fill="#1a50ff"/>
<polygon points="485.94,98.61 488.69,103.36 483.19,103.36" fill="#1a50ff"/>
<polygon points="488.77,94.05 491.52,98.8 486.02,98.8" fill="#1a50ff"/>
<polygon points="493.2,86.92 495.95,91.67 490.45,91.67" fill="#1a50ff"/>
<polygon points="416.8,165.38 419.55,160.62 414.05,160.62" fill="#1e90ff"/>
<polygon points="416.8,158.05 419.55,153.3 414.05,153.3" fill="#1e90ff"/>
<polygon points="416.8,152.18 419.55,147.43 414.05,147.43" fill="#1e90ff"/>
<polygon points="416.8,147.49 419.55,142.74 414.05,142.74" fill="#1e90ff"/>
<polygon points="416.8,141.88 419.55,137.12 414.05,137.12" fill="#1e90ff"/>
<polygon points="416.99,139.88 419.74,135.13 414.24,135.13" fill="#1e90ff"/>
<polygon points="417.22,137.9 419.97,133.15 414.47,133.15" fill="#1e90ff"/>
<polygon points="417.64,135.94 420.39,131.19 414.89,131.19" fill="#1e90ff"/>
<polygon points="418.28,134.05 421.03,129.3 415.53,129.3" fill="#1e90ff"/>
<polygon points="419.09,132.22 421.84,127.47 416.34,127.47" fill="#1e90ff"/>
<polygon points="420.07,130.48 422.82,125.73 417.32,125.73" fill="#1e90ff"/>
<polygon points="421.21,128.84 423.96,124.09 418.46,124.09" fill="#1e90ff"/>
<polygon points="422.49,127.3 425.24,122.55 419.74,122.55" fill="#1e90ff"/>
<polygon points="423.91,125.9 426.66,121.15 421.16,121.15" fill="#1e90ff"/>
<polygon points="425.46,124.63 428.21,119.88 422.71,119.88" fill="#1e90ff"/>
<polygon points="427.12,123.51 429.87,118.76 424.37,118.76" fill="#1e90ff"/>
<polygon points="428.87,122.55 431.62,117.8 426.12,117.8" fill="#1e90ff"/>
<polygon points="430.71,121.76 433.46,117.01 427.96,117.01" fill="#1e90ff"/>
<polygon points="432.61,121.14 435.36,116.39 429.86,116.39" fill="#1e90ff"/>
<polygon points="434.56,120.72 437.31,115.97 431.81,115.97" fill="#1e90ff"/>
<polygon points="436.55,120.49 439.3,115.74 433.8,115.74" fill="#1e90ff"/>
<polygon points="438.54,120.36 441.29,115.61 435.79,115.61" fill="#1e90ff"/>
<polygon points="440.54,120.31 443.29,115.56 437.79,115.56" fill="#1e90ff"/>
<polygon points="442.54,120.33 445.29,115.58 439.79,115.58" fill="#1e90ff"/>
<polygon points="444.54,120.42 447.29,115.67 441.79,115.67" fill="#1e90ff"/>
<polygon points="446.54,120.56 449.29,115.81 443.79,115.81" fill="#1e90ff"/>
<polygon points="448.53,120.7 451.28,115.95 445.78,115.95" fill="#1e90ff"/>
<polygon points="450.52,120.91 453.27,116.16 447.77,116.16" fill="#1e90ff"/>
<polygon points="452.49,121.23 455.24,116.48 449.74,116.48" fill="#1e90ff"/>
<polygon points="454.44,121.7 457.19,116.95 451.69,116.95" fill="#1e90ff"/>
<polygon points="456.34,122.33 459.09,117.58 453.59,117.58" fill="#1e90ff"/>
<polygon points="458.2,123.04 460.95,118.29 455.45,118.29" fill="#1e90ff"/>
<polygon points="460.06,123.79 462.81,119.04 457.31,119.04" fill="#1e90ff"/>
<polygon points="461.91,124.55 464.66,119.8 459.16,119.8" fill="#1e90ff"/>
<polygon points="463.76,125.3 466.51,120.55 461.01,120.55" fill="#1e90ff"/>
<polygon points="465.63,126 468.38,121.25 462.88,121.25" fill="#1e90ff"/>
<polygon points="467.53,126.56 470.28,121.81 464.78,121.81" fill="#1e90ff"/>
<polygon points="469.27,125.66 472.02,120.91 466.52,120.91" fill="#1e90ff"/>
<polygon points="470.66,124.22 473.41,119.47 467.91,119.47" fill="#1e90ff"/>
<polygon points="472.42,121.79 475.17,117.04 469.67,117.04" fill="#1e90ff"/>
<polygon points="474.27,119.25 477.02,114.5 471.52,114.5" fill="#1e90ff"/>
<polygon points="476.22,116.57 478.97,111.82 473.47,111.82" fill="#1e90ff"/>
<polygon points="478.26,113.77 481.01,109.02 475.51,109.02" fill="#1e90ff"/>
<polygon points="480.39,110.83 483.14,106.08 477.64,106.08" fill="#1e90ff"/>
<polygon points="482.64,107.74 485.39,102.99 479.89,102.99" fill="#1e90ff"/>
<polygon points="485,104.5 487.75,99.75 482.25,99.75" fill="#1e90ff"/>
<polygon points="488.5,99.67 491.25,94.92 485.75,94.92" fill="#1e90ff"/>
<polygon points="416.9,155.75 419.65,158.5 416.9,161.25 414.15,158.5" fill="#00e5ff"/>
<polygon points="416.9,149.22 419.65,151.97 416.9,154.72 414.15,151.97" fill="#00e5ff"/>
<polygon points="416.9,144 419.65,146.75 416.9,149.5 414.15,146.75" fill="#00e5ff"/>
<polygon points="416.9,139.82 419.65,142.57 416.9,145.32 414.15,142.57" fill="#00e5ff"/>
<polygon points="416.9,136.75 419.65,139.5 416.9,142.25 414.15,139.5" fill="#00e5ff"/>
<polygon points="417.09,134.76 419.84,137.51 417.09,140.26 414.34,137.51" fill="#00e5ff"/>
<polygon points="417.32,132.77 420.07,135.52 417.32,138.27 414.57,135.52" fill="#00e5ff"/>
<polygon points="417.74,130.82 420.49,133.57 417.74,136.32 414.99,133.57" fill="#00e5ff"/>
<polygon points="418.38,128.92 421.13,131.67 418.38,134.42 415.63,131.67" fill="#00e5ff"/>
<polygon points="419.19,127.1 421.94,129.85 419.19,132.6 416.44,129.85" fill="#00e5ff"/>
<polygon points="420.17,125.36 422.92,128.11 420.17,130.86 417.42,128.11" fill="#00e5ff"/>
<polygon points="421.31,123.71 424.06,126.46 421.31,129.21 418.56,126.46" fill="#00e5ff"/>
<polygon points="422.59,122.18 425.34,124.93 422.59,127.68 419.84,124.93" fill="#00e5ff"/>
<polygon points="424.01,120.77 426.76,123.52 424.01,126.27 421.26,123.52" fill="#00e5ff"/>
<polygon points="425.56,119.51 428.31,122.26 425.56,125.01 422.81,122.26" fill="#00e5ff"/>
<polygon points="427.22,118.39 429.97,121.14 427.22,123.89 424.47,121.14" fill="#00e5ff"/>
<polygon points="428.97,117.43 431.72,120.18 428.97,122.93 426.22,120.18" fill="#00e5ff"/>
<polygon points="430.81,116.64 433.56,119.39 430.81,122.14 428.06,119.39" fill="#00e5ff"/>
<polygon points="432.71,116.02 435.46,118.77 432.71,121.52 429.96,118.77" fill="#00e5ff"/>
<polygon points="434.66,115.59 437.41,118.34 434.66,121.09 431.91,118.34" fill="#00e5ff"/>
<polygon points="436.65,115.36 439.4,118.11 436.65,120.86 433.9,118.11" fill="#00e5ff"/>
<polygon points="438.64,115.24 441.39,117.99 438.64,120.74 435.89,117.99" fill="#00e5ff"/>
<polygon points="440.64,115.18 443.39,117.93 440.64,120.68 437.89,117.93" fill="#00e5ff"/>
<polygon points="442.64,115.2 445.39,117.95 442.64,120.7 439.89,117.95" fill="#00e5ff"/>
<polygon points="444.64,115.29 447.39,118.04 444.64,120.79 441.89,118.04" fill="#00e5ff"/>
<polygon points="446.63,115.45 449.38,118.2 446.63,120.95 443.88,118.2" fill="#00e5ff"/>
<polygon points="448.62,115.66 451.37,118.41 448.62,121.16 445.87,118.41" fill="#00e5ff"/>
<polygon points="450.59,116.03 453.34,118.78 450.59,121.53 447.84,118.78" fill="#00e5ff"/>
<polygon points="452.49,116.64 455.24,119.39 452.49,122.14 449.74,119.39" fill="#00e5ff"/>
<polygon points="454.29,117.5 457.04,120.25 454.29,123 451.54,120.25" fill="#00e5ff"/>
<polygon points="456.04,118.48 458.79,121.23 456.04,123.98 453.29,121.23" fill="#00e5ff"/>
<polygon points="457.78,119.47 460.53,122.22 457.78,124.97 455.03,122.22" fill="#00e5ff"/>
<polygon points="459.56,120.37 462.31,123.12 459.56,125.87 456.81,123.12" fill="#00e5ff"/>
<polygon points="461.41,121.13 464.16,123.88 461.41,126.63 458.66,123.88" fill="#00e5ff"/>
<polygon points="463.34,120.91 466.09,123.66 463.34,126.41 460.59,123.66" fill="#00e5ff"/>
<polygon points="464.83,119.58 467.58,122.33 464.83,125.08 462.08,122.33" fill="#00e5ff"/>
<polygon points="466.55,117.12 469.3,119.87 466.55,122.62 463.8,119.87" fill="#00e5ff"/>
<polygon points="468.34,114.56 471.09,117.31 468.34,120.06 465.59,117.31" fill="#00e5ff"/>
<polygon points="470.21,111.88 472.96,114.63 470.21,117.38 467.46,114.63" fill="#00e5ff"/>
<polygon points="472.16,109.08 474.91,111.83 472.16,114.58 469.41,111.83" fill="#00e5ff"/>
<polygon points="474.19,106.17 476.94,108.92 474.19,111.67 471.44,108.92" fill="#00e5ff"/>
<polygon points="476.31,103.12 479.06,105.87 476.31,108.62 473.56,105.87" fill="#00e5ff"/>
<polygon points="478.53,99.95 481.28,102.7 478.53,105.45 475.78,102.7" fill="#00e5ff"/>
<polygon points="480.84,96.64 483.59,99.39 480.84,102.14 478.09,99.39" fill="#00e5ff"/>
<polygon points="484.6,91.25 487.35,94 484.6,96.75 481.85,94" fill="#00e5ff"/>
<polygon points="414.62,158 419.38,155.25 419.38,160.75" fill="#00d966"/>
<polygon points="414.62,151.57 419.38,148.82 419.38,154.32" fill="#00d966"/>
<polygon points="414.62,146.43 419.38,143.68 419.38,149.18" fill="#00d966"/>
<polygon points="414.62,142.31 419.38,139.56 419.38,145.06" fill="#00d966"/>
<polygon points="414.62,136.8 419.38,134.05 419.38,139.55" fill="#00d966"/>
<polygon points="414.81,134.81 419.56,132.06 419.56,137.56" fill="#00d966"/>
<polygon points="415.08,132.83 419.83,130.08 419.83,135.58" fill="#00d966"/>
<polygon points="415.59,130.9 420.34,128.15 420.34,133.65" fill="#00d966"/>
<polygon points="416.33,129.04 421.08,126.29 421.08,131.79" fill="#00d966"/>
<polygon points="417.27,127.27 422.02,124.52 422.02,130.02" fill="#00d966"/>
<polygon points="418.39,125.62 423.14,122.87 423.14,128.37" fill="#00d966"/>
<polygon points="419.68,124.09 424.43,121.34 424.43,126.84" fill="#00d966"/>
<polygon points="421.13,122.72 425.88,119.97 425.88,125.47" fill="#00d966"/>
<polygon points="422.72,121.5 427.47,118.75 427.47,124.25" fill="#00d966"/>
<polygon points="424.43,120.47 429.18,117.72 429.18,123.22" fill="#00d966"/>
<polygon points="426.25,119.63 431,116.88 431,122.38" fill="#00d966"/>
<polygon points="428.14,118.99 432.89,116.24 432.89,121.74" fill="#00d966"/>
<polygon points="430.09,118.56 434.84,115.81 434.84,121.31" fill="#00d966"/>
<polygon points="432.08,118.36 436.83,115.61 436.83,121.11" fill="#00d966"/>
<polygon points="434.08,118.27 438.83,115.52 438.83,121.02" fill="#00d966"/>
<polygon points="436.08,118.24 440.83,115.49 440.83,120.99" fill="#00d966"/>
<polygon points="438.08,118.28 442.83,115.53 442.83,121.03" fill="#00d966"/>
<polygon points="440.07,118.4 444.82,115.65 444.82,121.15" fill="#00d966"/>
<polygon points="442.07,118.54 446.82,115.79 446.82,121.29" fill="#00d966"/>
<polygon points="444.06,118.71 448.81,115.96 448.81,121.46" fill="#00d966"/>
<polygon points="446.04,118.98 450.79,116.23 450.79,121.73" fill="#00d966"/>
<polygon points="447.98,119.45 452.73,116.7 452.73,122.2" fill="#00d966"/>
<polygon points="449.8,120.28 454.55,117.53 454.55,123.03" fill="#00d966"/>
<polygon points="451.48,121.36 456.23,118.61 456.23,124.11" fill="#00d966"/>
<polygon points="453.12,122.51 457.87,119.76 457.87,125.26" fill="#00d966"/>
<polygon points="454.85,123.5 459.6,120.75 459.6,126.25" fill="#00d966"/>
<polygon points="456.71,124.23 461.46,121.48 461.46,126.98" fill="#00d966"/>
<polygon points="458.61,123.86 463.36,121.11 463.36,126.61" fill="#00d966"/>
<polygon points="460.08,122.5 464.83,119.75 464.83,125.25" fill="#00d966"/>
<polygon points="461.65,119.95 466.4,117.2 466.4,122.7" fill="#00d966"/>
<polygon points="463.28,117.3 468.03,114.55 468.03,120.05" fill="#00d966"/>
<polygon points="464.97,114.56 469.72,111.81 469.72,117.31" fill="#00d966"/>
<polygon points="466.72,111.71 471.47,108.96 471.47,114.46" fill="#00d966"/>
<polygon points="468.54,108.77 473.29,106.02 473.29,111.52" fill="#00d966"/>
<polygon points="470.42,105.71 475.17,102.96 475.17,108.46" fill="#00d966"/>
<polygon points="472.37,102.55 477.12,99.8 477.12,105.3" fill="#00d966"/>
<polygon points="474.4,99.27 479.15,96.52 479.15,102.02" fill="#00d966"/>
<polygon points="476.49,95.87 481.24,93.12 481.24,98.62" fill="#00d966"/>
<polygon points="478.66,92.35 483.41,89.6 483.41,95.1" fill="#00d966"/>
<polygon points="480.91,88.69 485.66,85.94 485.66,91.44" fill="#00d966"/>
<polygon points="483.25,84.91 488,82.16 488,87.66" fill="#00d966"/>
<polygon points="486.02,80.4 490.77,77.65 490.77,83.15" fill="#00d966"/>
<polygon points="421.18,157 416.43,154.25 416.43,159.75" fill="#2ee000"/>
<polygon points="421.18,150.77 416.43,148.02 416.43,153.52" fill="#2ee000"/>
<polygon points="421.18,145.79 416.43,143.04 416.43,148.54" fill="#2ee000"/>
<polygon points="421.18,141.8 416.43,139.05 416.43,144.55" fill="#2ee000"/>
<polygon points="421.18,135.9 416.43,133.15 416.43,138.65" fill="#2ee000"/>
<polygon points="421.36,133.91 416.61,131.16 416.61,136.66" fill="#2ee000"/>
<polygon points="421.64,131.93 416.89,129.18 416.89,134.68" fill="#2ee000"/>
<polygon points="422.2,130.01 417.45,127.26 417.45,132.76" fill="#2ee000"/>
<polygon points="422.98,128.17 418.23,125.42 418.23,130.92" fill="#2ee000"/>
<polygon points="423.96,126.43 419.21,123.68 419.21,129.18" fill="#2ee000"/>
<polygon points="425.14,124.81 420.39,122.06 420.39,127.56" fill="#2ee000"/>
<polygon points="426.49,123.34 421.74,120.59 421.74,126.09" fill="#2ee000"/>
<polygon points="428,122.03 423.25,119.28 423.25,124.78" fill="#2ee000"/>
<polygon points="429.65,120.91 424.9,118.16 424.9,123.66" fill="#2ee000"/>
<polygon points="431.42,119.98 426.67,117.23 426.67,122.73" fill="#2ee000"/>
<polygon points="433.28,119.25 428.53,116.5 428.53,122" fill="#2ee000"/>
<polygon points="435.22,118.75 430.47,116 430.47,121.5" fill="#2ee000"/>
<polygon points="437.2,118.49 432.45,115.74 432.45,121.24" fill="#2ee000"/>
<polygon points="439.2,118.38 434.45,115.63 434.45,121.13" fill="#2ee000"/>
<polygon points="441.2,118.34 436.45,115.59 436.45,121.09" fill="#2ee000"/>
<polygon points="443.2,118.37 438.45,115.62 438.45,121.12" fill="#2ee000"/>
<polygon points="445.19,118.46 440.44,115.71 440.44,121.21" fill="#2ee000"/>
<polygon points="447.19,118.61 442.44,115.86 442.44,121.36" fill="#2ee000"/>
<polygon points="449.18,118.76 444.43,116.01 444.43,121.51" fill="#2ee000"/>
<polygon points="451.17,119 446.42,116.25 446.42,121.75" fill="#2ee000"/>
<polygon points="453.13,119.38 448.38,116.63 448.38,122.13" fill="#2ee000"/>
<polygon points="455.01,120.06 450.26,117.31 450.26,122.81" fill="#2ee000"/>
<polygon points="456.75,121.04 452,118.29 452,123.79" fill="#2ee000"/>
<polygon points="458.43,122.13 453.68,119.38 453.68,124.88" fill="#2ee000"/>
<polygon points="460.13,123.18 455.38,120.43 455.38,125.93" fill="#2ee000"/>
<polygon points="461.95,124 457.2,121.25 457.2,126.75" fill="#2ee000"/>
<polygon points="463.9,124.19 459.15,121.44 459.15,126.94" fill="#2ee000"/>
<polygon points="465.51,123.04 460.76,120.29 460.76,125.79" fill="#2ee000"/>
<polygon points="467.07,120.47 462.32,117.72 462.32,123.22" fill="#2ee000"/>
<polygon points="468.68,117.82 463.93,115.07 463.93,120.57" fill="#2ee000"/>
<polygon points="470.36,115.07 465.61,112.32 465.61,117.82" fill="#2ee000"/>
<polygon points="472.09,112.22 467.34,109.47 467.34,114.97" fill="#2ee000"/>
<polygon points="473.88,109.27 469.13,106.52 469.13,112.02" fill="#2ee000"/>
<polygon points="475.74,106.22 470.99,103.47 470.99,108.97" fill="#2ee000"/>
<polygon points="477.66,103.05 472.91,100.3 472.91,105.8" fill="#2ee000"/>
<polygon points="479.66,99.77 474.91,97.02 474.91,102.52" fill="#2ee000"/>
<polygon points="481.72,96.38 476.97,93.63 476.97,99.13" fill="#2ee000"/>
<polygon points="483.86,92.86 479.11,90.11 479.11,95.61" fill="#2ee000"/>
<polygon points="486.07,89.22 481.32,86.47 481.32,91.97" fill="#2ee000"/>
<polygon points="488.36,85.45 483.61,82.7 483.61,88.2" fill="#2ee000"/>
<polygon points="491.68,80 486.93,77.25 486.93,82.75" fill="#2ee000"/>
<circle cx="418" cy="156" r="2.5" fill="#ccee00"/>
<circle cx="418" cy="149.97" r="2.5" fill="#ccee00"/>
<circle cx="418" cy="145.15" r="2.5" fill="#ccee00"/>
<circle cx="418" cy="141.29" r="2.5" fill="#ccee00"/>
<circle cx="418" cy="138.2" r="2.5" fill="#ccee00"/>
<circle cx="418" cy="135.1" r="2.5" fill="#ccee00"/>
<circle cx="418.19" cy="133.11" r="2.5" fill="#ccee00"/>
<circle cx="418.49" cy="131.13" r="2.5" fill="#ccee00"/>
<circle cx="419.08" cy="129.22" r="2.5" fill="#ccee00"/>
<circle cx="419.91" cy="127.4" r="2.5" fill="#ccee00"/>
<circle cx="420.94" cy="125.7" r="2.5" fill="#ccee00"/>
<circle cx="422.18" cy="124.12" r="2.5" fill="#ccee00"/>
<circle cx="423.6" cy="122.72" r="2.5" fill="#ccee00"/>
<circle cx="425.18" cy="121.49" r="2.5" fill="#ccee00"/>
<circle cx="426.89" cy="120.46" r="2.5" fill="#ccee00"/>
<circle cx="428.72" cy="119.65" r="2.5" fill="#ccee00"/>
<circle cx="430.63" cy="119.06" r="2.5" fill="#ccee00"/>
<circle cx="432.6" cy="118.72" r="2.5" fill="#ccee00"/>
<circle cx="434.59" cy="118.6" r="2.5" fill="#ccee00"/>
<circle cx="436.59" cy="118.55" r="2.5" fill="#ccee00"/>
<circle cx="438.59" cy="118.56" r="2.5" fill="#ccee00"/>
<circle cx="440.59" cy="118.64" r="2.5" fill="#ccee00"/>
<circle cx="442.59" cy="118.77" r="2.5" fill="#ccee00"/>
<circle cx="444.58" cy="118.91" r="2.5" fill="#ccee00"/>
<circle cx="446.57" cy="119.08" r="2.5" fill="#ccee00"/>
<circle cx="448.56" cy="119.32" r="2.5" fill="#ccee00"/>
<circle cx="450.53" cy="119.68" r="2.5" fill="#ccee00"/>
<circle cx="452.43" cy="120.29" r="2.5" fill="#ccee00"/>
<circle cx="454.23" cy="121.16" r="2.5" fill="#ccee00"/>
<circle cx="455.97" cy="122.15" r="2.5" fill="#ccee00"/>
<circle cx="457.74" cy="123.07" r="2.5" fill="#ccee00"/>
<circle cx="459.58" cy="123.85" r="2.5" fill="#ccee00"/>
<circle cx="461.53" cy="123.92" r="2.5" fill="#ccee00"/>
<circle cx="463.09" cy="122.68" r="2.5" fill="#ccee00"/>
<circle cx="464.67" cy="120.13" r="2.5" fill="#ccee00"/>
<circle cx="466.31" cy="117.49" r="2.5" fill="#ccee00"/>
<circle cx="468.01" cy="114.74" r="2.5" fill="#ccee00"/>
<circle cx="469.77" cy="111.9" r="2.5" fill="#ccee00"/>
<circle cx="471.6" cy="108.95" r="2.5" fill="#ccee00"/>
<circle cx="473.49" cy="105.89" r="2.5" fill="#ccee00"/>
<circle cx="475.46" cy="102.71" r="2.5" fill="#ccee00"/>
<circle cx="477.5" cy="99.42" r="2.5" fill="#ccee00"/>
<circle cx="479.61" cy="96.01" r="2.5" fill="#ccee00"/>
<circle cx="481.81" cy="92.46" r="2.5" fill="#ccee00"/>
<circle cx="484.08" cy="88.79" r="2.5" fill="#ccee00"/>
<circle cx="486.44" cy="84.98" r="2.5" fill="#ccee00"/>
<circle cx="488.6" cy="81.5" r="2.5" fill="#ccee00"/>
<polygon points="418.6,136.78 419.42,138.87 421.66,139 419.93,140.43 420.49,142.61 418.6,141.4 416.71,142.61 417.27,140.43 415.54,139 417.78,138.87" fill="#ffaa00"/>
<polygon points="418.6,132.38 419.42,134.47 421.66,134.6 419.93,136.03 420.49,138.21 418.6,137 416.71,138.21 417.27,136.03 415.54,134.6 417.78,134.47" fill="#ffaa00"/>
<polygon points="418.79,130.39 419.61,132.48 421.85,132.61 420.12,134.04 420.68,136.21 418.79,135.01 416.89,136.21 417.46,134.04 415.73,132.61 417.96,132.48" fill="#ffaa00"/>
<polygon points="419.06,128.41 419.88,130.5 422.12,130.63 420.39,132.06 420.95,134.23 419.06,133.03 417.17,134.23 417.73,132.06 416,130.63 418.24,130.5" fill="#ffaa00"/>
<polygon points="419.6,126.48 420.42,128.57 422.66,128.71 420.93,130.14 421.49,132.31 419.6,131.1 417.7,132.31 418.26,130.14 416.53,128.71 418.77,128.57" fill="#ffaa00"/>
<polygon points="420.35,124.63 421.18,126.72 423.42,126.86 421.69,128.29 422.25,130.46 420.35,129.25 418.46,130.46 419.02,128.29 417.29,126.86 419.53,126.72" fill="#ffaa00"/>
<polygon points="421.31,122.88 422.14,124.97 424.37,125.1 422.64,126.53 423.2,128.7 421.31,127.5 419.42,128.7 419.98,126.53 418.25,125.1 420.49,124.97" fill="#ffaa00"/>
<polygon points="422.46,121.24 423.28,123.33 425.52,123.47 423.79,124.9 424.35,127.07 422.46,125.86 420.57,127.07 421.13,124.9 419.4,123.47 421.64,123.33" fill="#ffaa00"/>
<polygon points="423.78,119.74 424.6,121.83 426.84,121.97 425.11,123.4 425.67,125.57 423.78,124.36 421.89,125.57 422.45,123.4 420.72,121.97 422.96,121.83" fill="#ffaa00"/>
<polygon points="425.26,118.4 426.09,120.49 428.33,120.63 426.59,122.05 427.16,124.23 425.26,123.02 423.37,124.23 423.93,122.05 422.2,120.63 424.44,120.49" fill="#ffaa00"/>
<polygon points="426.88,117.23 427.71,119.32 429.95,119.45 428.21,120.88 428.78,123.05 426.88,121.85 424.99,123.05 425.55,120.88 423.82,119.45 426.06,119.32" fill="#ffaa00"/>
<polygon points="428.62,116.25 429.45,118.33 431.69,118.47 429.95,119.9 430.52,122.07 428.62,120.87 426.73,122.07 427.29,119.9 425.56,118.47 427.8,118.33" fill="#ffaa00"/>
<polygon points="430.46,115.46 431.28,117.55 433.52,117.69 431.79,119.11 432.35,121.29 430.46,120.08 428.57,121.29 429.13,119.11 427.4,117.69 429.64,117.55" fill="#ffaa00"/>
<polygon points="432.38,114.88 433.2,116.97 435.44,117.11 433.71,118.54 434.27,120.71 432.38,119.5 430.48,120.71 431.04,118.54 429.31,117.11 431.55,116.97" fill="#ffaa00"/>
<polygon points="434.34,114.54 435.17,116.63 437.41,116.76 435.68,118.19 436.24,120.36 434.34,119.16 432.45,120.36 433.01,118.19 431.28,116.76 433.52,116.63" fill="#ffaa00"/>
<polygon points="436.34,114.39 437.16,116.48 439.4,116.62 437.67,118.04 438.23,120.22 436.34,119.01 434.45,120.22 435.01,118.04 433.28,116.62 435.52,116.48" fill="#ffaa00"/>
<polygon points="438.34,114.33 439.16,116.42 441.4,116.55 439.67,117.98 440.23,120.15 438.34,118.95 436.44,120.15 437.01,117.98 435.27,116.55 437.51,116.42" fill="#ffaa00"/>
<polygon points="440.34,114.33 441.16,116.42 443.4,116.55 441.67,117.98 442.23,120.15 440.34,118.95 438.44,120.15 439.01,117.98 437.27,116.55 439.51,116.42" fill="#ffaa00"/>
<polygon points="442.34,114.4 443.16,116.48 445.4,116.62 443.67,118.05 444.23,120.22 442.34,119.02 440.44,120.22 441,118.05 439.27,116.62 441.51,116.48" fill="#ffaa00"/>
<polygon points="444.33,114.54 445.15,116.62 447.39,116.76 445.66,118.19 446.22,120.36 444.33,119.16 442.44,120.36 443,118.19 441.27,116.76 443.51,116.62" fill="#ffaa00"/>
<polygon points="446.32,114.69 447.15,116.78 449.39,116.92 447.66,118.35 448.22,120.52 446.32,119.31 444.43,120.52 444.99,118.35 443.26,116.92 445.5,116.78" fill="#ffaa00"/>
<polygon points="448.31,114.93 449.13,117.02 451.37,117.16 449.64,118.58 450.2,120.76 448.31,119.55 446.42,120.76 446.98,118.58 445.25,117.16 447.49,117.02" fill="#ffaa00"/>
<polygon points="450.26,115.35 451.09,117.44 453.33,117.57 451.6,119 452.16,121.17 450.26,119.97 448.37,121.17 448.93,119 447.2,117.57 449.44,117.44" fill="#ffaa00"/>
<polygon points="452.13,116.06 452.96,118.14 455.2,118.28 453.46,119.71 454.03,121.88 452.13,120.68 450.24,121.88 450.8,119.71 449.07,118.28 451.31,118.14" fill="#ffaa00"/>
<polygon points="453.89,117.02 454.71,119.1 456.95,119.24 455.22,120.67 455.78,122.84 453.89,121.64 451.99,122.84 452.55,120.67 450.82,119.24 453.06,119.1" fill="#ffaa00"/>
<polygon points="455.58,118.07 456.41,120.16 458.65,120.3 456.92,121.73 457.48,123.9 455.58,122.69 453.69,123.9 454.25,121.73 452.52,120.3 454.76,120.16" fill="#ffaa00"/>
<polygon points="457.29,119.11 458.11,121.2 460.35,121.34 458.62,122.77 459.18,124.94 457.29,123.73 455.4,124.94 455.96,122.77 454.23,121.34 456.47,121.2" fill="#ffaa00"/>
<polygon points="459.09,119.98 459.92,122.07 462.16,122.21 460.42,123.63 460.99,125.81 459.09,124.6 457.2,125.81 457.76,123.63 456.03,122.21 458.27,122.07" fill="#ffaa00"/>
<polygon points="461.01,120.46 461.83,122.55 464.07,122.69 462.34,124.12 462.9,126.29 461.01,125.08 459.12,126.29 459.68,124.12 457.95,122.69 460.19,122.55" fill="#ffaa00"/>
<polygon points="462.76,119.58 463.58,121.67 465.82,121.8 464.09,123.23 464.65,125.4 462.76,124.2 460.86,125.4 461.43,123.23 459.69,121.8 461.93,121.67" fill="#ffaa00"/>
<polygon points="464.15,118.14 464.97,120.23 467.21,120.37 465.48,121.79 466.04,123.97 464.15,122.76 462.25,123.97 462.81,121.79 461.08,120.37 463.32,120.23" fill="#ffaa00"/>
<polygon points="465.76,115.62 466.59,117.7 468.83,117.84 467.1,119.27 467.66,121.44 465.76,120.24 463.87,121.44 464.43,119.27 462.7,117.84 464.94,117.7" fill="#ffaa00"/>
<polygon points="467.45,112.99 468.27,115.08 470.51,115.22 468.78,116.64 469.34,118.82 467.45,117.61 465.55,118.82 466.12,116.64 464.38,115.22 466.62,115.08" fill="#ffaa00"/>
<polygon points="469.2,110.26 470.02,112.35 472.26,112.49 470.53,113.92 471.09,116.09 469.2,114.88 467.3,116.09 467.86,113.92 466.13,112.49 468.37,112.35" fill="#ffaa00"/>
<polygon points="471.01,107.43 471.84,109.52 474.07,109.66 472.34,111.08 472.91,113.26 471.01,112.05 469.12,113.26 469.68,111.08 467.95,109.66 470.19,109.52" fill="#ffaa00"/>
<polygon points="472.9,104.49 473.72,106.57 475.96,106.71 474.23,108.14 474.79,110.31 472.9,109.11 471.01,110.31 471.57,108.14 469.84,106.71 472.08,106.57" fill="#ffaa00"/>
<polygon points="474.86,101.43 475.68,103.52 477.92,103.65 476.19,105.08 476.75,107.25 474.86,106.05 472.97,107.25 473.53,105.08 471.8,103.65 474.04,103.52" fill="#ffaa00"/>
<polygon points="476.9,98.25 477.72,100.34 479.96,100.47 478.23,101.9 478.79,104.07 476.9,102.87 475.01,104.07 475.57,101.9 473.84,100.47 476.08,100.34" fill="#ffaa00"/>
<polygon points="479.02,94.95 479.84,97.03 482.08,97.17 480.35,98.6 480.91,100.77 479.02,99.57 477.13,100.77 477.69,98.6 475.96,97.17 478.2,97.03" fill="#ffaa00"/>
<polygon points="481.22,91.51 482.04,93.6 484.28,93.74 482.55,95.17 483.11,97.34 481.22,96.13 479.33,97.34 479.89,95.17 478.16,93.74 480.4,93.6" fill="#ffaa00"/>
<polygon points="483.51,87.95 484.33,90.04 486.57,90.17 484.84,91.6 485.4,93.77 483.51,92.57 481.61,93.77 482.17,91.6 480.44,90.17 482.68,90.04" fill="#ffaa00"/>
<polygon points="485.88,84.24 486.7,86.33 488.94,86.47 487.21,87.9 487.77,90.07 485.88,88.86 483.99,90.07 484.55,87.9 482.82,86.47 485.06,86.33" fill="#ffaa00"/>
<polygon points="489,79.38 489.82,81.47 492.06,81.6 490.33,83.03 490.89,85.21 489,84 487.11,85.21 487.67,83.03 485.94,81.6 488.18,81.47" fill="#ffaa00"/>
<polygon points="418.6,135.22 421.25,137.14 420.24,140.25 416.96,140.25 415.95,137.14" fill="#ff5a00"/>
<polygon points="418.6,132.22 421.25,134.14 420.24,137.25 416.96,137.25 415.95,134.14" fill="#ff5a00"/>
<polygon points="418.79,130.23 421.43,132.15 420.42,135.26 417.15,135.26 416.14,132.15" fill="#ff5a00"/>
<polygon points="419.06,128.25 421.71,130.17 420.69,133.28 417.42,133.28 416.41,130.17" fill="#ff5a00"/>
<polygon points="419.6,126.32 422.24,128.24 421.23,131.35 417.96,131.35 416.95,128.24" fill="#ff5a00"/>
<polygon points="420.35,124.47 423,126.39 421.99,129.5 418.72,129.5 417.71,126.39" fill="#ff5a00"/>
<polygon points="421.31,122.72 423.96,124.64 422.95,127.75 419.68,127.75 418.67,124.64" fill="#ff5a00"/>
<polygon points="422.46,121.08 425.11,123 424.1,126.11 420.83,126.11 419.81,123" fill="#ff5a00"/>
<polygon points="423.78,119.58 426.43,121.5 425.42,124.61 422.15,124.61 421.14,121.5" fill="#ff5a00"/>
<polygon points="425.26,118.24 427.91,120.16 426.9,123.27 423.63,123.27 422.62,120.16" fill="#ff5a00"/>
<polygon points="426.88,117.07 429.53,118.99 428.52,122.1 425.25,122.1 424.24,118.99" fill="#ff5a00"/>
<polygon points="428.62,116.08 431.27,118.01 430.26,121.12 426.99,121.12 425.98,118.01" fill="#ff5a00"/>
<polygon points="430.46,115.3 433.11,117.22 432.1,120.33 428.83,120.33 427.82,117.22" fill="#ff5a00"/>
<polygon points="432.38,114.72 435.02,116.64 434.01,119.75 430.74,119.75 429.73,116.64" fill="#ff5a00"/>
<polygon points="434.34,114.38 436.99,116.3 435.98,119.41 432.71,119.41 431.7,116.3" fill="#ff5a00"/>
<polygon points="436.34,114.23 438.98,116.15 437.97,119.26 434.7,119.26 433.69,116.15" fill="#ff5a00"/>
<polygon points="438.34,114.17 440.98,116.09 439.97,119.2 436.7,119.2 435.69,116.09" fill="#ff5a00"/>
<polygon points="440.34,114.17 442.98,116.09 441.97,119.2 438.7,119.2 437.69,116.09" fill="#ff5a00"/>
<polygon points="442.34,114.23 444.98,116.16 443.97,119.27 440.7,119.27 439.69,116.16" fill="#ff5a00"/>
<polygon points="444.33,114.37 446.98,116.3 445.97,119.41 442.7,119.41 441.68,116.3" fill="#ff5a00"/>
<polygon points="446.33,114.52 448.97,116.44 447.96,119.55 444.69,119.55 443.68,116.44" fill="#ff5a00"/>
<polygon points="448.31,114.76 450.96,116.68 449.95,119.79 446.68,119.79 445.66,116.68" fill="#ff5a00"/>
<polygon points="450.26,115.19 452.91,117.11 451.9,120.22 448.63,120.22 447.62,117.11" fill="#ff5a00"/>
<polygon points="452.14,115.87 454.79,117.79 453.78,120.9 450.51,120.9 449.49,117.79" fill="#ff5a00"/>
<polygon points="453.94,116.74 456.59,118.66 455.58,121.78 452.3,121.78 451.29,118.66" fill="#ff5a00"/>
<polygon points="455.7,117.69 458.35,119.62 457.33,122.73 454.06,122.73 453.05,119.62" fill="#ff5a00"/>
<polygon points="457.45,118.67 460.09,120.59 459.08,123.7 455.81,123.7 454.8,120.59" fill="#ff5a00"/>
<polygon points="459.22,119.59 461.87,121.51 460.86,124.62 457.58,124.62 456.57,121.51" fill="#ff5a00"/>
<polygon points="461.05,120.4 463.7,122.32 462.69,125.43 459.41,125.43 458.4,122.32" fill="#ff5a00"/>
<polygon points="462.99,120.62 465.64,122.54 464.63,125.65 461.36,125.65 460.35,122.54" fill="#ff5a00"/>
<polygon points="464.61,119.48 467.26,121.4 466.25,124.51 462.98,124.51 461.97,121.4" fill="#ff5a00"/>
<polygon points="465.99,118.03 468.63,119.95 467.62,123.06 464.35,123.06 463.34,119.95" fill="#ff5a00"/>
<polygon points="467.67,115.55 470.32,117.47 469.31,120.58 466.04,120.58 465.03,117.47" fill="#ff5a00"/>
<polygon points="469.43,112.97 472.07,114.89 471.06,118 467.79,118 466.78,114.89" fill="#ff5a00"/>
<polygon points="471.25,110.28 473.9,112.2 472.89,115.31 469.62,115.31 468.61,112.2" fill="#ff5a00"/>
<polygon points="473.15,107.49 475.8,109.41 474.79,112.52 471.52,112.52 470.51,109.41" fill="#ff5a00"/>
<polygon points="475.13,104.58 477.77,106.5 476.76,109.61 473.49,109.61 472.48,106.5" fill="#ff5a00"/>
<polygon points="477.18,101.55 479.83,103.47 478.82,106.59 475.55,106.59 474.54,103.47" fill="#ff5a00"/>
<polygon points="479.32,98.4 481.97,100.33 480.96,103.44 477.69,103.44 476.68,100.33" fill="#ff5a00"/>
<polygon points="481.55,95.13 484.19,97.05 483.18,100.16 479.91,100.16 478.9,97.05" fill="#ff5a00"/>
<polygon points="483.86,91.72 486.51,93.64 485.5,96.76 482.23,96.76 481.22,93.64" fill="#ff5a00"/>
<polygon points="486.27,88.18 488.92,90.1 487.91,93.21 484.64,93.21 483.63,90.1" fill="#ff5a00"/>
<polygon points="488.78,84.49 491.42,86.41 490.41,89.52 487.14,89.52 486.13,86.41" fill="#ff5a00"/>
<polygon points="491,81.22 493.65,83.14 492.64,86.25 489.36,86.25 488.35,83.14" fill="#ff5a00"/>
<circle cx="418.2" cy="133.3" r="2.95" fill="#ff0000"/><circle cx="417.46" cy="132.56" r="0.65" fill="#fff" fill-opacity="0.75"/>
<circle cx="418.39" cy="131.31" r="2.95" fill="#ff0000"/><circle cx="417.65" cy="130.57" r="0.65" fill="#fff" fill-opacity="0.75"/>
<circle cx="418.66" cy="129.33" r="2.95" fill="#ff0000"/><circle cx="417.92" cy="128.59" r="0.65" fill="#fff" fill-opacity="0.75"/>
<circle cx="419.2" cy="127.4" r="2.95" fill="#ff0000"/><circle cx="418.46" cy="126.67" r="0.65" fill="#fff" fill-opacity="0.75"/>
<circle cx="419.95" cy="125.55" r="2.95" fill="#ff0000"/><circle cx="419.22" cy="124.82" r="0.65" fill="#fff" fill-opacity="0.75"/>
<circle cx="420.91" cy="123.8" r="2.95" fill="#ff0000"/><circle cx="420.17" cy="123.06" r="0.65" fill="#fff" fill-opacity="0.75"/>
<circle cx="422.06" cy="122.16" r="2.95" fill="#ff0000"/><circle cx="421.32" cy="121.43" r="0.65" fill="#fff" fill-opacity="0.75"/>
<circle cx="423.38" cy="120.66" r="2.95" fill="#ff0000"/><circle cx="422.64" cy="119.93" r="0.65" fill="#fff" fill-opacity="0.75"/>
<circle cx="424.86" cy="119.32" r="2.95" fill="#ff0000"/><circle cx="424.13" cy="118.58" r="0.65" fill="#fff" fill-opacity="0.75"/>
<circle cx="426.48" cy="118.15" r="2.95" fill="#ff0000"/><circle cx="425.75" cy="117.41" r="0.65" fill="#fff" fill-opacity="0.75"/>
<circle cx="428.22" cy="117.17" r="2.95" fill="#ff0000"/><circle cx="427.49" cy="116.43" r="0.65" fill="#fff" fill-opacity="0.75"/>
<circle cx="430.06" cy="116.38" r="2.95" fill="#ff0000"/><circle cx="429.32" cy="115.64" r="0.65" fill="#fff" fill-opacity="0.75"/>
<circle cx="431.98" cy="115.8" r="2.95" fill="#ff0000"/><circle cx="431.24" cy="115.07" r="0.65" fill="#fff" fill-opacity="0.75"/>
<circle cx="433.94" cy="115.46" r="2.95" fill="#ff0000"/><circle cx="433.21" cy="114.72" r="0.65" fill="#fff" fill-opacity="0.75"/>
<circle cx="435.94" cy="115.31" r="2.95" fill="#ff0000"/><circle cx="435.2" cy="114.57" r="0.65" fill="#fff" fill-opacity="0.75"/>
<circle cx="437.94" cy="115.25" r="2.95" fill="#ff0000"/><circle cx="437.2" cy="114.51" r="0.65" fill="#fff" fill-opacity="0.75"/>
<circle cx="439.94" cy="115.25" r="2.95" fill="#ff0000"/><circle cx="439.2" cy="114.51" r="0.65" fill="#fff" fill-opacity="0.75"/>
<circle cx="441.94" cy="115.32" r="2.95" fill="#ff0000"/><circle cx="441.2" cy="114.58" r="0.65" fill="#fff" fill-opacity="0.75"/>
<circle cx="443.93" cy="115.45" r="2.95" fill="#ff0000"/><circle cx="443.19" cy="114.71" r="0.65" fill="#fff" fill-opacity="0.75"/>
<circle cx="445.93" cy="115.56" r="2.95" fill="#ff0000"/><circle cx="445.19" cy="114.82" r="0.65" fill="#fff" fill-opacity="0.75"/>
<circle cx="447.92" cy="115.74" r="2.95" fill="#ff0000"/><circle cx="447.18" cy="115" r="0.65" fill="#fff" fill-opacity="0.75"/>
<circle cx="449.88" cy="116.12" r="2.95" fill="#ff0000"/><circle cx="449.14" cy="115.39" r="0.65" fill="#fff" fill-opacity="0.75"/>
<circle cx="451.74" cy="116.85" r="2.95" fill="#ff0000"/><circle cx="451" cy="116.11" r="0.65" fill="#fff" fill-opacity="0.75"/>
<circle cx="453.44" cy="117.91" r="2.95" fill="#ff0000"/><circle cx="452.7" cy="117.17" r="0.65" fill="#fff" fill-opacity="0.75"/>
<circle cx="455.04" cy="119.1" r="2.95" fill="#ff0000"/><circle cx="454.3" cy="118.37" r="0.65" fill="#fff" fill-opacity="0.75"/>
<circle cx="456.61" cy="120.34" r="2.95" fill="#ff0000"/><circle cx="455.87" cy="119.6" r="0.65" fill="#fff" fill-opacity="0.75"/>
<circle cx="458.26" cy="121.47" r="2.95" fill="#ff0000"/><circle cx="457.52" cy="120.74" r="0.65" fill="#fff" fill-opacity="0.75"/>
<circle cx="460.05" cy="122.34" r="2.95" fill="#ff0000"/><circle cx="459.32" cy="121.6" r="0.65" fill="#fff" fill-opacity="0.75"/>
<circle cx="462.01" cy="122.33" r="2.95" fill="#ff0000"/><circle cx="461.27" cy="121.59" r="0.65" fill="#fff" fill-opacity="0.75"/>
<circle cx="463.57" cy="121.1" r="2.95" fill="#ff0000"/><circle cx="462.84" cy="120.36" r="0.65" fill="#fff" fill-opacity="0.75"/>
<circle cx="465.61" cy="118.13" r="2.95" fill="#ff0000"/><circle cx="464.88" cy="117.4" r="0.65" fill="#fff" fill-opacity="0.75"/>
<circle cx="467.76" cy="115.01" r="2.95" fill="#ff0000"/><circle cx="467.02" cy="114.27" r="0.65" fill="#fff" fill-opacity="0.75"/>
<circle cx="470.02" cy="111.73" r="2.95" fill="#ff0000"/><circle cx="469.28" cy="110.99" r="0.65" fill="#fff" fill-opacity="0.75"/>
<circle cx="472.39" cy="108.27" r="2.95" fill="#ff0000"/><circle cx="471.65" cy="107.54" r="0.65" fill="#fff" fill-opacity="0.75"/>
<circle cx="474.89" cy="104.64" r="2.95" fill="#ff0000"/><circle cx="474.15" cy="103.9" r="0.65" fill="#fff" fill-opacity="0.75"/>
<circle cx="477.52" cy="100.82" r="2.95" fill="#ff0000"/><circle cx="476.78" cy="100.08" r="0.65" fill="#fff" fill-opacity="0.75"/>
<circle cx="480.28" cy="96.8" r="2.95" fill="#ff0000"/><circle cx="479.55" cy="96.06" r="0.65" fill="#fff" fill-opacity="0.75"/>
<circle cx="483.19" cy="92.56" r="2.95" fill="#ff0000"/><circle cx="482.46" cy="91.83" r="0.65" fill="#fff" fill-opacity="0.75"/>
<circle cx="486.25" cy="88.11" r="2.95" fill="#ff0000"/><circle cx="485.52" cy="87.37" r="0.65" fill="#fff" fill-opacity="0.75"/>
<circle cx="489.7" cy="83.1" r="2.95" fill="#ff0000"/><circle cx="488.96" cy="82.36" r="0.65" fill="#fff" fill-opacity="0.75"/>
</g>
<rect x="386.2" y="6.9" width="55.3" height="102.7" fill="#fff" stroke="#aaa" stroke-width="0.7"/>
<rect x="392.65" y="9.75" width="4.5" height="4.5" fill="#8000ff"/>
<text transform="translate(405.2,14.6) scale(1,1.07)" font-size="7.3" stroke="#000" stroke-width="0.2" font-weight="bold">0% SOC</text>
<circle cx="394.9" cy="21.31" r="2.6" fill="#4a00ff"/>
<text transform="translate(405.2,23.91) scale(1,1.07)" font-size="7.3" stroke="#000" stroke-width="0.2" font-weight="bold">10% SOC</text>
<polygon points="394.9,27.63 397.76,32.57 392.04,32.57" fill="#1a50ff"/>
<text transform="translate(405.2,33.22) scale(1,1.07)" font-size="7.3" stroke="#000" stroke-width="0.2" font-weight="bold">20% SOC</text>
<polygon points="394.9,42.92 397.76,37.98 392.04,37.98" fill="#1e90ff"/>
<text transform="translate(405.2,42.53) scale(1,1.07)" font-size="7.3" stroke="#000" stroke-width="0.2" font-weight="bold">30% SOC</text>
<polygon points="394.9,46.38 397.76,49.24 394.9,52.1 392.04,49.24" fill="#00e5ff"/>
<text transform="translate(405.2,51.84) scale(1,1.07)" font-size="7.3" stroke="#000" stroke-width="0.2" font-weight="bold">40% SOC</text>
<polygon points="391.91,58.55 396.85,55.69 396.85,61.41" fill="#00d966"/>
<text transform="translate(405.2,61.15) scale(1,1.07)" font-size="7.3" stroke="#000" stroke-width="0.2" font-weight="bold">50% SOC</text>
<polygon points="397.89,67.86 392.95,65 392.95,70.72" fill="#2ee000"/>
<text transform="translate(405.2,70.46) scale(1,1.07)" font-size="7.3" stroke="#000" stroke-width="0.2" font-weight="bold">60% SOC</text>
<circle cx="394.9" cy="77.17" r="2.6" fill="#ccee00"/>
<text transform="translate(405.2,79.77) scale(1,1.07)" font-size="7.3" stroke="#000" stroke-width="0.2" font-weight="bold">70% SOC</text>
<polygon points="394.9,83.15 395.75,85.31 398.07,85.45 396.28,86.93 396.86,89.18 394.9,87.93 392.94,89.18 393.52,86.93 391.73,85.45 394.05,85.31" fill="#ffaa00"/>
<text transform="translate(405.2,89.08) scale(1,1.07)" font-size="7.3" stroke="#000" stroke-width="0.2" font-weight="bold">80% SOC</text>
<polygon points="394.9,93.06 397.5,94.95 396.5,98 393.3,98 392.3,94.95" fill="#ff5a00"/>
<text transform="translate(405.2,98.39) scale(1,1.07)" font-size="7.3" stroke="#000" stroke-width="0.2" font-weight="bold">90% SOC</text>
<circle cx="394.9" cy="105.1" r="2.6" fill="#ff0000"/><circle cx="394.25" cy="104.45" r="0.57" fill="#fff" fill-opacity="0.75"/>
<text transform="translate(405.2,107.7) scale(1,1.07)" font-size="7.3" stroke="#000" stroke-width="0.2" font-weight="bold">100% SOC</text>
<rect x="426.6" y="109.2" width="24.5" height="15.2" fill="none" stroke="#000" stroke-width="1.4" stroke-dasharray="5 5" stroke-dashoffset="6.6"/>
<path d="M434.5 124.4 L439 124.4 L484.3 173.8" fill="none" stroke="#000" stroke-width="1.4" stroke-dasharray="6 3"/>
<polygon points="489,179.2 480.6,175.6 487.5,170.8" fill="#000"/>
<rect x="511.8" y="123.3" width="103.1" height="102.7" fill="#fff" stroke="#a8a8a8" stroke-width="1"/>
<line x1="510.0" y1="123.3" x2="511.8" y2="123.3" stroke="#a8a8a8" stroke-width="0.8"/>
<text transform="translate(509.4,125.4) scale(1,0.95)" font-size="6.3" stroke="#000" stroke-width="0.12" font-weight="bold" text-anchor="end">0.004</text>
<line x1="510.0" y1="174.65" x2="511.8" y2="174.65" stroke="#a8a8a8" stroke-width="0.8"/>
<text transform="translate(509.4,176.75) scale(1,0.95)" font-size="6.3" stroke="#000" stroke-width="0.12" font-weight="bold" text-anchor="end">0.002</text>
<line x1="510.0" y1="226" x2="511.8" y2="226" stroke="#a8a8a8" stroke-width="0.8"/>
<text transform="translate(509.4,228.1) scale(1,0.95)" font-size="6.3" stroke="#000" stroke-width="0.12" font-weight="bold" text-anchor="end">0.000</text>
<line x1="510.7" y1="148.97" x2="511.8" y2="148.97" stroke="#a8a8a8" stroke-width="0.8"/>
<line x1="510.7" y1="200.32" x2="511.8" y2="200.32" stroke="#a8a8a8" stroke-width="0.8"/>
<line x1="511.8" y1="226.0" x2="511.8" y2="227.8" stroke="#a8a8a8" stroke-width="0.8"/>
<text transform="translate(511.8,234.1) scale(1,0.95)" font-size="6.3" stroke="#000" stroke-width="0.12" font-weight="bold" text-anchor="middle">0.008</text>
<line x1="563.35" y1="226.0" x2="563.35" y2="227.8" stroke="#a8a8a8" stroke-width="0.8"/>
<text transform="translate(563.35,234.1) scale(1,0.95)" font-size="6.3" stroke="#000" stroke-width="0.12" font-weight="bold" text-anchor="middle">0.010</text>
<line x1="614.9" y1="226.0" x2="614.9" y2="227.8" stroke="#a8a8a8" stroke-width="0.8"/>
<text transform="translate(614.9,234.1) scale(1,0.95)" font-size="6.3" stroke="#000" stroke-width="0.12" font-weight="bold" text-anchor="middle">0.012</text>
<line x1="537.58" y1="226.0" x2="537.58" y2="227.1" stroke="#a8a8a8" stroke-width="0.8"/>
<line x1="589.12" y1="226.0" x2="589.12" y2="227.1" stroke="#a8a8a8" stroke-width="0.8"/>
<text transform="translate(563.6,240.9) scale(1,1.05)" font-size="6.3" stroke="#000" stroke-width="0.1" font-weight="bold" text-anchor="middle">Z'(Ω)</text>
<text transform="translate(493.4,174) rotate(-90)" font-size="6.3" font-weight="bold" text-anchor="middle" stroke="#000" stroke-width="0.1">-Z''(Ω)</text>
<rect x="517.23" y="187.18" width="2.52" height="2.52" fill="#8000ff"/>
<rect x="525.55" y="181.94" width="2.52" height="2.52" fill="#8000ff"/>
<rect x="533.34" y="179.35" width="2.52" height="2.52" fill="#8000ff"/>
<rect x="540.7" y="178.55" width="2.52" height="2.52" fill="#8000ff"/>
<rect x="548.6" y="178.43" width="2.52" height="2.52" fill="#8000ff"/>
<rect x="556.57" y="177.89" width="2.52" height="2.52" fill="#8000ff"/>
<rect x="564.93" y="178.68" width="2.52" height="2.52" fill="#8000ff"/>
<rect x="572.5" y="177.01" width="2.52" height="2.52" fill="#8000ff"/>
<rect x="581.03" y="177.26" width="2.52" height="2.52" fill="#8000ff"/>
<rect x="588.9" y="175.3" width="2.52" height="2.52" fill="#8000ff"/>
<rect x="597.31" y="173.51" width="2.52" height="2.52" fill="#8000ff"/>
<circle cx="520.33" cy="185.16" r="1.4" fill="#4a00ff"/>
<circle cx="527.53" cy="181.39" r="1.4" fill="#4a00ff"/>
<circle cx="535.79" cy="180.41" r="1.4" fill="#4a00ff"/>
<circle cx="543.7" cy="179.33" r="1.4" fill="#4a00ff"/>
<circle cx="552.31" cy="179" r="1.4" fill="#4a00ff"/>
<circle cx="560.26" cy="178.5" r="1.4" fill="#4a00ff"/>
<circle cx="567.73" cy="178.53" r="1.4" fill="#4a00ff"/>
<circle cx="576.54" cy="178.53" r="1.4" fill="#4a00ff"/>
<circle cx="584.16" cy="178.31" r="1.4" fill="#4a00ff"/>
<circle cx="592.38" cy="177.31" r="1.4" fill="#4a00ff"/>
<circle cx="600.85" cy="177.32" r="1.4" fill="#4a00ff"/>
<polygon points="522.49,183.51 524.03,186.17 520.95,186.17" fill="#1a50ff"/>
<polygon points="530.95,181.1 532.49,183.76 529.41,183.76" fill="#1a50ff"/>
<polygon points="539.32,178.43 540.86,181.09 537.78,181.09" fill="#1a50ff"/>
<polygon points="547.74,177.58 549.28,180.24 546.2,180.24" fill="#1a50ff"/>
<polygon points="555.18,178.6 556.72,181.26 553.64,181.26" fill="#1a50ff"/>
<polygon points="562.98,178.17 564.52,180.83 561.44,180.83" fill="#1a50ff"/>
<polygon points="570.97,178.52 572.51,181.18 569.43,181.18" fill="#1a50ff"/>
<polygon points="579.96,178.48 581.5,181.14 578.42,181.14" fill="#1a50ff"/>
<polygon points="588.21,178.22 589.75,180.88 586.67,180.88" fill="#1a50ff"/>
<polygon points="596.11,178.84 597.65,181.5 594.57,181.5" fill="#1a50ff"/>
<polygon points="604.1,178.82 605.64,181.48 602.56,181.48" fill="#1a50ff"/>
<polygon points="521.91,186.32 523.45,183.66 520.37,183.66" fill="#1e90ff"/>
<polygon points="529.97,183.76 531.51,181.1 528.43,181.1" fill="#1e90ff"/>
<polygon points="537.97,182.55 539.51,179.89 536.43,179.89" fill="#1e90ff"/>
<polygon points="547.18,182.6 548.72,179.94 545.64,179.94" fill="#1e90ff"/>
<polygon points="555.89,181.47 557.43,178.81 554.35,178.81" fill="#1e90ff"/>
<polygon points="563.86,182.08 565.4,179.42 562.32,179.42" fill="#1e90ff"/>
<polygon points="571.93,182.04 573.47,179.38 570.39,179.38" fill="#1e90ff"/>
<polygon points="580.6,182.03 582.14,179.37 579.06,179.37" fill="#1e90ff"/>
<polygon points="588.97,183.77 590.51,181.11 587.43,181.11" fill="#1e90ff"/>
<polygon points="597.56,183.77 599.1,181.11 596.02,181.11" fill="#1e90ff"/>
<polygon points="606.37,185.7 607.91,183.04 604.83,183.04" fill="#1e90ff"/>
<polygon points="521.8,180.88 523.34,182.42 521.8,183.96 520.26,182.42" fill="#00e5ff"/>
<polygon points="531.08,180.18 532.62,181.72 531.08,183.26 529.54,181.72" fill="#00e5ff"/>
<polygon points="540.12,179.32 541.66,180.86 540.12,182.4 538.58,180.86" fill="#00e5ff"/>
<polygon points="548.19,178.32 549.73,179.86 548.19,181.4 546.65,179.86" fill="#00e5ff"/>
<polygon points="557.01,179.07 558.55,180.61 557.01,182.15 555.47,180.61" fill="#00e5ff"/>
<polygon points="566.45,177.9 567.99,179.44 566.45,180.98 564.91,179.44" fill="#00e5ff"/>
<polygon points="574.23,178.57 575.77,180.11 574.23,181.65 572.69,180.11" fill="#00e5ff"/>
<polygon points="583.02,179.95 584.56,181.49 583.02,183.03 581.48,181.49" fill="#00e5ff"/>
<polygon points="592.17,180.87 593.71,182.41 592.17,183.95 590.63,182.41" fill="#00e5ff"/>
<polygon points="600.18,182.62 601.72,184.16 600.18,185.7 598.64,184.16" fill="#00e5ff"/>
<polygon points="609.34,184.57 610.88,186.11 609.34,187.65 607.8,186.11" fill="#00e5ff"/>
<polygon points="522.43,183.8 525.09,182.26 525.09,185.34" fill="#00d966"/>
<polygon points="530.79,182.41 533.45,180.87 533.45,183.95" fill="#00d966"/>
<polygon points="539.86,180.74 542.52,179.2 542.52,182.28" fill="#00d966"/>
<polygon points="549.01,181.65 551.67,180.11 551.67,183.19" fill="#00d966"/>
<polygon points="557.86,181.68 560.52,180.14 560.52,183.22" fill="#00d966"/>
<polygon points="566.16,181.04 568.82,179.5 568.82,182.58" fill="#00d966"/>
<polygon points="574.69,182.1 577.35,180.56 577.35,183.64" fill="#00d966"/>
<polygon points="583.52,182.46 586.18,180.92 586.18,184" fill="#00d966"/>
<polygon points="592.58,184.24 595.24,182.7 595.24,185.78" fill="#00d966"/>
<polygon points="601.62,185.99 604.28,184.45 604.28,187.53" fill="#00d966"/>
<polygon points="610.09,188.34 612.75,186.8 612.75,189.88" fill="#00d966"/>
<polygon points="523.63,183.78 520.97,182.24 520.97,185.32" fill="#2ee000"/>
<polygon points="532.14,183.21 529.48,181.67 529.48,184.75" fill="#2ee000"/>
<polygon points="541.45,181.22 538.79,179.68 538.79,182.76" fill="#2ee000"/>
<polygon points="549.61,181.26 546.95,179.72 546.95,182.8" fill="#2ee000"/>
<polygon points="558.35,180.9 555.69,179.36 555.69,182.44" fill="#2ee000"/>
<polygon points="567.53,182.29 564.87,180.75 564.87,183.83" fill="#2ee000"/>
<polygon points="575.67,182.01 573.01,180.47 573.01,183.55" fill="#2ee000"/>
<polygon points="583.81,182.38 581.15,180.84 581.15,183.92" fill="#2ee000"/>
<polygon points="592.72,183.91 590.06,182.37 590.06,185.45" fill="#2ee000"/>
<polygon points="601.9,185.25 599.24,183.71 599.24,186.79" fill="#2ee000"/>
<polygon points="609.54,188.22 606.88,186.68 606.88,189.76" fill="#2ee000"/>
<circle cx="524.03" cy="183.93" r="1.4" fill="#ccee00"/>
<circle cx="532.05" cy="181.91" r="1.4" fill="#ccee00"/>
<circle cx="540.03" cy="182.33" r="1.4" fill="#ccee00"/>
<circle cx="548.44" cy="181.51" r="1.4" fill="#ccee00"/>
<circle cx="555.71" cy="180.99" r="1.4" fill="#ccee00"/>
<circle cx="563.6" cy="181.64" r="1.4" fill="#ccee00"/>
<circle cx="572.04" cy="182.75" r="1.4" fill="#ccee00"/>
<circle cx="579.8" cy="183.87" r="1.4" fill="#ccee00"/>
<circle cx="588.37" cy="187.69" r="1.4" fill="#ccee00"/>
<circle cx="596.42" cy="190.49" r="1.4" fill="#ccee00"/>
<circle cx="604.38" cy="193.88" r="1.4" fill="#ccee00"/>
<polygon points="524.67,181.19 525.14,182.38 526.42,182.46 525.43,183.28 525.75,184.52 524.67,183.83 523.59,184.52 523.91,183.28 522.92,182.46 524.2,182.38" fill="#ffaa00"/>
<polygon points="532.78,178.91 533.25,180.1 534.53,180.18 533.54,180.99 533.86,182.23 532.78,181.55 531.7,182.23 532.02,180.99 531.03,180.18 532.31,180.1" fill="#ffaa00"/>
<polygon points="540.33,178.41 540.8,179.6 542.08,179.68 541.09,180.49 541.42,181.74 540.33,181.05 539.25,181.74 539.57,180.49 538.58,179.68 539.86,179.6" fill="#ffaa00"/>
<polygon points="548.56,178.77 549.03,179.96 550.31,180.04 549.32,180.86 549.64,182.1 548.56,181.41 547.48,182.1 547.8,180.86 546.81,180.04 548.09,179.96" fill="#ffaa00"/>
<polygon points="557.35,178.38 557.82,179.57 559.1,179.65 558.11,180.46 558.43,181.7 557.35,181.02 556.27,181.7 556.59,180.46 555.6,179.65 556.88,179.57" fill="#ffaa00"/>
<polygon points="565.27,179.24 565.74,180.43 567.02,180.51 566.04,181.33 566.36,182.57 565.27,181.88 564.19,182.57 564.51,181.33 563.52,180.51 564.8,180.43" fill="#ffaa00"/>
<polygon points="573.25,179.38 573.72,180.57 575,180.65 574.01,181.47 574.33,182.71 573.25,182.02 572.16,182.71 572.49,181.47 571.5,180.65 572.78,180.57" fill="#ffaa00"/>
<polygon points="580.31,181.24 580.78,182.43 582.06,182.51 581.08,183.32 581.4,184.56 580.31,183.88 579.23,184.56 579.55,183.32 578.56,182.51 579.84,182.43" fill="#ffaa00"/>
<polygon points="588.24,183.89 588.71,185.08 589.99,185.16 589,185.98 589.32,187.22 588.24,186.53 587.15,187.22 587.48,185.98 586.49,185.16 587.77,185.08" fill="#ffaa00"/>
<polygon points="596.7,188.19 597.17,189.38 598.45,189.46 597.46,190.28 597.78,191.52 596.7,190.83 595.62,191.52 595.94,190.28 594.95,189.46 596.23,189.38" fill="#ffaa00"/>
<polygon points="604.91,191.13 605.38,192.32 606.66,192.4 605.67,193.21 605.99,194.46 604.91,193.77 603.83,194.46 604.15,193.21 603.16,192.4 604.44,192.32" fill="#ffaa00"/>
<polygon points="525.48,180.51 526.88,181.53 526.35,183.17 524.62,183.17 524.09,181.53" fill="#ff5a00"/>
<polygon points="532.82,179.34 534.22,180.36 533.69,182 531.96,182 531.42,180.36" fill="#ff5a00"/>
<polygon points="541.83,178.97 543.23,179.99 542.7,181.63 540.97,181.63 540.43,179.99" fill="#ff5a00"/>
<polygon points="549.66,178.29 551.06,179.31 550.52,180.95 548.8,180.95 548.26,179.31" fill="#ff5a00"/>
<polygon points="556.99,178.79 558.39,179.81 557.86,181.45 556.13,181.45 555.6,179.81" fill="#ff5a00"/>
<polygon points="565.2,178.81 566.6,179.83 566.06,181.47 564.33,181.47 563.8,179.83" fill="#ff5a00"/>
<polygon points="573.99,179.17 575.38,180.18 574.85,181.82 573.12,181.82 572.59,180.18" fill="#ff5a00"/>
<polygon points="581.32,181.88 582.72,182.89 582.19,184.54 580.46,184.54 579.92,182.89" fill="#ff5a00"/>
<polygon points="589.73,183.01 591.13,184.02 590.59,185.67 588.87,185.67 588.33,184.02" fill="#ff5a00"/>
<polygon points="597.03,185.79 598.43,186.8 597.9,188.45 596.17,188.45 595.63,186.8" fill="#ff5a00"/>
<polygon points="605.99,190.02 607.38,191.04 606.85,192.68 605.12,192.68 604.59,191.04" fill="#ff5a00"/>
<circle cx="525.38" cy="181.52" r="1.4" fill="#ff0000"/><circle cx="525.03" cy="181.17" r="0.31" fill="#fff" fill-opacity="0.75"/>
<circle cx="534.3" cy="180.47" r="1.4" fill="#ff0000"/><circle cx="533.95" cy="180.12" r="0.31" fill="#fff" fill-opacity="0.75"/>
<circle cx="541.46" cy="179.83" r="1.4" fill="#ff0000"/><circle cx="541.11" cy="179.48" r="0.31" fill="#fff" fill-opacity="0.75"/>
<circle cx="549.12" cy="178.82" r="1.4" fill="#ff0000"/><circle cx="548.77" cy="178.47" r="0.31" fill="#fff" fill-opacity="0.75"/>
<circle cx="558.05" cy="179.84" r="1.4" fill="#ff0000"/><circle cx="557.7" cy="179.49" r="0.31" fill="#fff" fill-opacity="0.75"/>
<circle cx="565.43" cy="180.29" r="1.4" fill="#ff0000"/><circle cx="565.08" cy="179.94" r="0.31" fill="#fff" fill-opacity="0.75"/>
<circle cx="573.24" cy="181.12" r="1.4" fill="#ff0000"/><circle cx="572.89" cy="180.77" r="0.31" fill="#fff" fill-opacity="0.75"/>
<circle cx="581.63" cy="181.77" r="1.4" fill="#ff0000"/><circle cx="581.28" cy="181.42" r="0.31" fill="#fff" fill-opacity="0.75"/>
<circle cx="588.86" cy="184.1" r="1.4" fill="#ff0000"/><circle cx="588.51" cy="183.75" r="0.31" fill="#fff" fill-opacity="0.75"/>
<circle cx="596.77" cy="187.18" r="1.4" fill="#ff0000"/><circle cx="596.42" cy="186.83" r="0.31" fill="#fff" fill-opacity="0.75"/>
<circle cx="604.71" cy="189.87" r="1.4" fill="#ff0000"/><circle cx="604.36" cy="189.52" r="0.31" fill="#fff" fill-opacity="0.75"/>
</svg>
</body></html>
